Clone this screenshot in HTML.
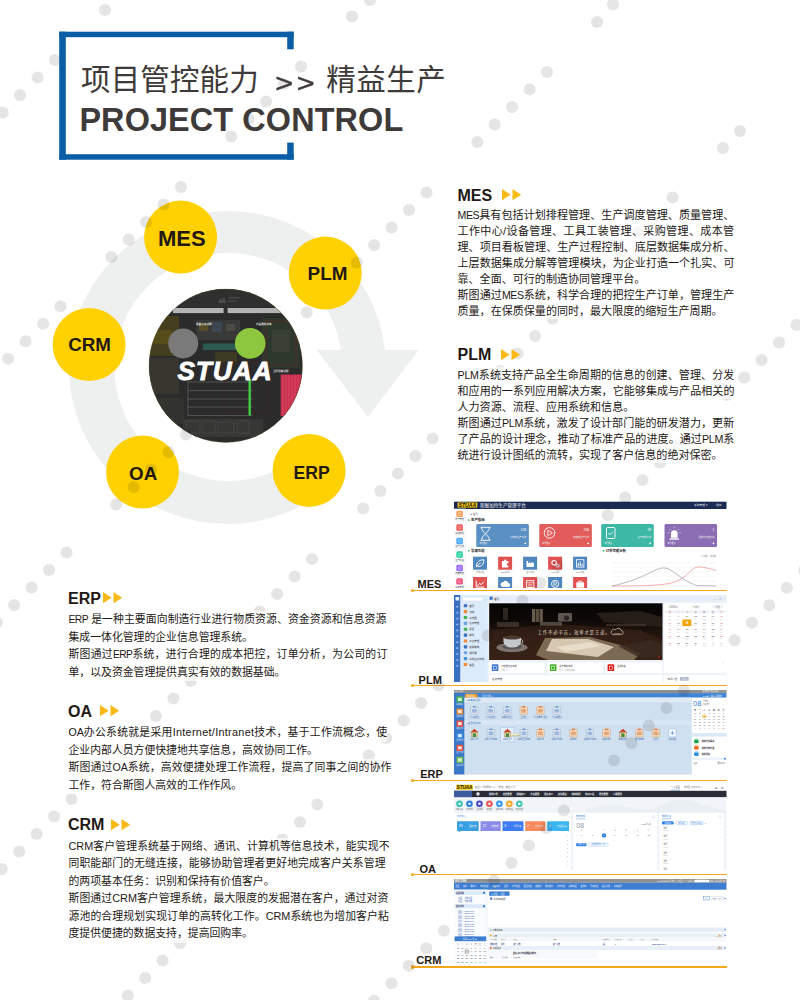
<!DOCTYPE html>
<html lang="zh-CN">
<head>
<meta charset="utf-8">
<title>项目管控能力 &gt;&gt; 精益生产 PROJECT CONTROL</title>
<style>
html,body{margin:0;padding:0;background:#fff;}
body{width:800px;height:1000px;overflow:hidden;}
#page{position:relative;width:800px;height:1000px;overflow:hidden;background:#fff;
  font-family:"Liberation Sans","Noto Sans CJK SC",sans-serif;color:#231815;}
#page *{box-sizing:border-box;}
.abs{position:absolute;}
.t-cn{position:absolute;white-space:nowrap;font-weight:400;font-size:29.5px;line-height:36px;color:#3e3a39;}
.t-en{position:absolute;white-space:nowrap;font-weight:700;font-size:32.4px;line-height:36px;color:#3e3a39;left:79.4px;top:102px;letter-spacing:0.12px;}
.hd{position:absolute;white-space:nowrap;font-weight:700;font-size:16px;line-height:20px;color:#231815;}
.tri{position:absolute;width:20px;height:11.5px;}
.ln{position:absolute;white-space:nowrap;font-size:11px;line-height:16px;height:16px;color:#231815;background:rgba(255,255,255,.68);}
.ln .l{font-size:.95em;letter-spacing:-.3px;}
.ln .m{font-size:1em;letter-spacing:0.3px;}
.lab{position:absolute;white-space:nowrap;font-weight:700;font-size:11px;line-height:14px;color:#231815;}
.oline{position:absolute;left:412.5px;width:314.5px;height:1.4px;background:#f5a81b;}
.odot{position:absolute;left:410.8px;width:3.6px;height:3.6px;border-radius:50%;background:#f5a81b;}
.shot{position:absolute;left:454px;width:272.5px;overflow:hidden;background:#fff;}
.shot svg{display:block;}
</style>
</head>
<body>
<div id="page">

<!-- circular diagram -->
<svg class="abs" style="left:0;top:170px" width="460" height="400" viewBox="0 170 460 400">
  <defs>
    <clipPath id="cc"><circle cx="225.75" cy="365.75" r="76.75"/></clipPath>
  </defs>
  <mask id="rm" maskUnits="userSpaceOnUse" x="0" y="170" width="460" height="400">
    <rect x="0" y="170" width="460" height="400" fill="#fff"/>
    <circle cx="228.3" cy="367" r="114" fill="#000"/>
    <polygon points="300,350.1 470,350.1 470,560 350.1,525.6 227,368" fill="#000"/>
  </mask>
  <ellipse cx="227.5" cy="367.5" rx="158.5" ry="156.5" fill="#eeefef" mask="url(#rm)"/>
  <polygon points="316.6,350.1 418.7,350.1 367.9,417.1" fill="#eeefef"/>
  <!-- center screen -->
  <g clip-path="url(#cc)">
    <rect x="140" y="280" width="180" height="180" fill="#2b2b2b"/>
    <rect x="149" y="289" width="154" height="18" fill="#2f2f2f"/>
    <path d="M218 303l2.4-5l1.8 2.6l1.6-4l2.6 6.4z" fill="#4c4c4c"/><rect x="228" y="297" width="12" height="1.6" fill="#444"/><rect x="228" y="300.4" width="9" height="1.6" fill="#444"/>
    <rect x="149" y="316" width="30" height="40" fill="#5a4e14" opacity=".55"/>
    <rect x="152" y="330" width="20" height="14" fill="#6a5c18" opacity=".5"/>
    <rect x="149" y="358" width="30" height="36" fill="#3b3a30" opacity=".85"/>
    <rect x="150" y="398" width="34" height="26" fill="#333330" opacity=".9"/>
    <rect x="196" y="320" width="44" height="20" fill="#39393a"/>
    <rect x="199" y="323" width="9" height="8" fill="#5c5424" opacity=".8"/><rect x="212" y="322" width="10" height="10" fill="#3c4a58" opacity=".9"/><rect x="226" y="324" width="9" height="7" fill="#4a4a44"/>
    <rect x="203" y="343.5" width="38" height="6.5" fill="#2f6a62" opacity=".75"/>
    <rect x="215" y="352" width="22" height="10" fill="#4a4520" opacity=".6"/>
    <rect x="262" y="318" width="38" height="50" fill="#2f382c"/>
    <rect x="266" y="321" width="30" height="44" fill="none" stroke="#7a2222" stroke-width=".5"/><rect x="224" y="362" width="44" height="50" fill="none" stroke="#5e1f1f" stroke-width=".4"/>
    <rect x="272" y="330" width="18" height="22" fill="#3a3f36"/>
    <rect x="173" y="308" width="50.6" height="5.1" fill="#b4b4b4"/>
    <rect x="227.6" y="308" width="60" height="5.1" fill="#b4b4b4"/>
    <g stroke="#8a8a8a" stroke-width=".5" opacity=".8">
      <line x1="188" y1="382" x2="253" y2="382"/><line x1="188" y1="390.5" x2="253" y2="390.5"/>
      <line x1="188" y1="399" x2="253" y2="399"/><line x1="188" y1="407" x2="253" y2="407"/>
      <line x1="188" y1="415.5" x2="253" y2="415.5"/><line x1="188" y1="380" x2="188" y2="416"/>
    </g>
    <rect x="183" y="419" width="80" height="18" fill="#383836" opacity=".9"/><g fill="none" stroke="#55554e" stroke-width=".4"><rect x="186" y="421" width="14" height="12"/><rect x="203" y="421" width="12" height="12"/><rect x="218" y="422" width="16" height="11"/><rect x="237" y="421" width="12" height="12"/></g>
    <rect x="280.6" y="374.5" width="30" height="41.5" fill="#c9304f"/>
    <g stroke="#e0506a" stroke-width=".7"><line x1="283" y1="375" x2="283" y2="416"/><line x1="286" y1="375" x2="286" y2="416"/><line x1="289" y1="375" x2="289" y2="416"/><line x1="292" y1="375" x2="292" y2="416"/><line x1="295" y1="375" x2="295" y2="416"/><line x1="298" y1="375" x2="298" y2="416"/></g>
    <rect x="248.5" y="379" width="2.4" height="36.5" fill="#3fd043"/>
    <circle cx="183.2" cy="343.4" r="15" fill="#7a7a7a"/>
    <circle cx="250.2" cy="343.4" r="15.3" fill="#8dc63f"/>
    <text x="196" y="325" font-size="2.6" fill="#e6e6e6" font-weight="700">机器人开动率</text>
    <text x="256" y="325" font-size="2.6" fill="#e6e6e6" font-weight="700">产品类别分布</text>
    <text x="273" y="372" font-size="2.6" fill="#e6e6e6" font-weight="700">当月异常记录</text>
    <text x="225" y="379.8" text-anchor="middle" font-family="Liberation Sans, sans-serif" font-weight="700" font-style="italic" font-size="26.2" letter-spacing="1" stroke="#ffffff" stroke-width=".8" fill="#ffffff">STUAA</text>
  </g>
  <circle cx="225.75" cy="365.75" r="76.6" fill="none" stroke="#5f5628" stroke-width=".5" opacity=".7"/>
  <!-- yellow nodes -->
  <g fill="#ffd100">
    <circle cx="180.6" cy="237.1" r="36.5"/>
    <circle cx="325.25" cy="273.1" r="36.5"/>
    <circle cx="89.1" cy="344.5" r="36.5"/>
    <circle cx="142.5" cy="472" r="36.5"/>
    <circle cx="309.1" cy="470.4" r="36.5"/>
  </g>
  <g font-family="Liberation Sans, sans-serif" font-weight="700" fill="#231815" text-anchor="middle">
    <text x="181.9" y="246.3" font-size="22">MES</text>
    <text x="327.5" y="279.6" font-size="18.9">PLM</text>
    <text x="89.6" y="351.3" font-size="18.8">CRM</text>
    <text x="143.2" y="479.5" font-size="18.8">OA</text>
    <text x="311.6" y="478.8" font-size="17.6">ERP</text>
  </g>
</svg>

<!-- screenshots -->
<svg class="abs" style="left:454px;top:501.3px" width="272.5" height="86.7" viewBox="454 501.3 272.5 86.7" font-family="Liberation Sans, Noto Sans CJK SC, sans-serif">
<rect x="454" y="501.3" width="272.5" height="86.7" fill="#ffffff"/>
<rect x="454" y="502" width="272.5" height="7.3" fill="#1b2a52"/>
<rect x="457.6" y="502.8" width="19.7" height="5.1" fill="#f6c500"/>
<text x="467.4" y="507.3" font-size="5.2" font-weight="700" font-style="italic" text-anchor="middle" fill="#1a1a1a">STUAA</text>
<text x="480" y="507.3" font-size="4.6" fill="#ffffff">斯图加特生产管理平台</text>
<text x="694" y="506.8" font-size="2.8" fill="#e8ecf5">系统管理 ▾</text><text x="716" y="506.8" font-size="2.8" fill="#e8ecf5">退出</text>
<rect x="454" y="509" width="11.7" height="79" fill="#fafbfc"/><rect x="465.6" y="509" width=".4" height="79" fill="#e3e6ea"/>
<rect x="456.3" y="511" width="6.6" height="6.4" rx="1.5" fill="#f5a05a"/><rect x="458.2" y="512.8" width="2.8" height="2.8" rx=".5" fill="none" stroke="#fff" stroke-width=".45" opacity=".8"/>
<text x="459.6" y="520.4" font-size="2.2" text-anchor="middle" fill="#555">排产管理</text>
<rect x="456.3" y="524.6" width="6.6" height="6.4" rx="1.5" fill="#ee5a5a"/><rect x="458.2" y="526.4" width="2.8" height="2.8" rx=".5" fill="none" stroke="#fff" stroke-width=".45" opacity=".8"/>
<text x="459.6" y="534.0" font-size="2.2" text-anchor="middle" fill="#555">基础数据</text>
<rect x="456.3" y="538.1" width="6.6" height="6.4" rx="1.5" fill="#4aa8ff"/><rect x="458.2" y="539.9" width="2.8" height="2.8" rx=".5" fill="none" stroke="#fff" stroke-width=".45" opacity=".8"/>
<text x="459.6" y="547.5" font-size="2.2" text-anchor="middle" fill="#555">生产过程</text>
<rect x="456.3" y="551.6" width="6.6" height="6.4" rx="1.5" fill="#2dd4a4"/><rect x="458.2" y="553.4" width="2.8" height="2.8" rx=".5" fill="none" stroke="#fff" stroke-width=".45" opacity=".8"/>
<text x="459.6" y="561.0" font-size="2.2" text-anchor="middle" fill="#555">生产看板</text>
<rect x="456.3" y="565.1" width="6.6" height="6.4" rx="1.5" fill="#9a6bff"/><rect x="458.2" y="566.9" width="2.8" height="2.8" rx=".5" fill="none" stroke="#fff" stroke-width=".45" opacity=".8"/>
<text x="459.6" y="574.5" font-size="2.2" text-anchor="middle" fill="#555">质量管理</text>
<rect x="456.3" y="578.5" width="6.6" height="6.4" rx="1.5" fill="#f0507a"/><rect x="458.2" y="580.3" width="2.8" height="2.8" rx=".5" fill="none" stroke="#fff" stroke-width=".45" opacity=".8"/>
<text x="459.6" y="587.9" font-size="2.2" text-anchor="middle" fill="#555">设备管理</text>
<text x="470" y="515.5" font-size="2.4" fill="#666">▲ 首页</text>
<circle cx="468.8" cy="520.4" r="0.9" fill="#2eb872"/><text x="471.0" y="521.6" font-size="3.4" font-weight="700" fill="#222">生产指标</text>
<circle cx="468.8" cy="551.0999999999999" r="0.9" fill="#2eb872"/><text x="471.0" y="552.3" font-size="3.4" font-weight="700" fill="#222">常用功能</text>
<circle cx="603.5" cy="551.0999999999999" r="0.9" fill="#2eb872"/><text x="605.7" y="552.3" font-size="3.4" font-weight="700" fill="#222">订单完成分析</text>
<rect x="476.25" y="524.4" width="52.6" height="22.8" rx="1.5" fill="#5b90c4"/>
<text x="526.25" y="531.6" font-size="3.4" text-anchor="end" fill="#fff">128</text>
<text x="526.25" y="538.4" font-size="2.3" text-anchor="end" fill="#f2f2f2">待完成生产订单</text>
<text x="479.25" y="544.3" font-size="2" fill="#f2f2f2">查看更多</text><circle cx="525.25" cy="543.6" r=".9" fill="#fff"/>
<rect x="539.25" y="524.4" width="52.6" height="22.8" rx="1.5" fill="#e25c5c"/>
<text x="589.25" y="531.6" font-size="3.4" text-anchor="end" fill="#fff">266</text>
<text x="589.25" y="538.4" font-size="2.3" text-anchor="end" fill="#f2f2f2">未完成生产订单</text>
<text x="542.25" y="544.3" font-size="2" fill="#f2f2f2">查看更多</text><circle cx="588.25" cy="543.6" r=".9" fill="#fff"/>
<rect x="601.2" y="524.4" width="52.6" height="22.8" rx="1.5" fill="#3eb8a6"/>
<text x="651.2" y="531.6" font-size="3.4" text-anchor="end" fill="#fff">39</text>
<text x="651.2" y="538.4" font-size="2.3" text-anchor="end" fill="#f2f2f2">生产完成订单</text>
<text x="604.2" y="544.3" font-size="2" fill="#f2f2f2">查看更多</text><circle cx="650.2" cy="543.6" r=".9" fill="#fff"/>
<rect x="664.5" y="524.4" width="52.6" height="22.8" rx="1.5" fill="#8a6db3"/>
<text x="714.5" y="531.6" font-size="3.4" text-anchor="end" fill="#fff">1</text>
<text x="714.5" y="538.4" font-size="2.3" text-anchor="end" fill="#f2f2f2">紧急待处理订单</text>
<text x="667.5" y="544.3" font-size="2" fill="#f2f2f2">查看更多</text><circle cx="713.5" cy="543.6" r=".9" fill="#fff"/>
<path d="M480.5 527.6h10M480.5 540.6h10M481.5 527.6c0 5 8 8 8 13M489.5 527.6c0 5 -8 8 -8 13" stroke="#fff" stroke-width=".9" fill="none"/>
<circle cx="549.5" cy="533.2" r="5.3" fill="none" stroke="#fff" stroke-width=".9"/><path d="M547.8 530.4l4.6 2.8l-4.6 2.8z" fill="none" stroke="#fff" stroke-width=".8"/>
<rect x="606.5" y="527.8" width="8.5" height="11" rx="1" fill="none" stroke="#fff" stroke-width=".9"/><path d="M608.3 533.5l1.6 1.6l3-3.2" stroke="#fff" stroke-width=".8" fill="none"/>
<path d="M671 538v-4.2a3.3 3.3 0 0 1 6.6 0v4.2z" fill="#fff"/><rect x="669.6" y="538.6" width="9.4" height="1.4" fill="#fff"/><path d="M674.3 527v1.6M669.6 529.3l1.2 1.2M679 529.3l-1.2 1.2M667.8 533h1.6M679.2 533h1.6" stroke="#fff" stroke-width=".6"/>
<rect x="473" y="557" width="14" height="13" fill="#4f86bd"/><g transform="translate(473,557)"><path d="M3.4 9.8c0-4.5 3-6.6 7.4-6.8c.2 4.6-2.2 7-6 6.9M3 10.6l4.6-4.6" fill="none" stroke="#fff" stroke-width="1"/></g>
<text x="480" y="573.6" font-size="1.9" text-anchor="middle" fill="#666">日常计划</text>
<rect x="498.1" y="557" width="14" height="13" fill="#e05252"/><g transform="translate(498.1,557)"><path d="M3.8 4.4h2.2a1.1 1.1 0 1 1 2 0h2.2v2.3a1.1 1.1 0 1 0 0 2v2h-6.4z" fill="#fff"/></g>
<text x="505.1" y="573.6" font-size="1.9" text-anchor="middle" fill="#666">BOM管理</text>
<rect x="523.1" y="557" width="14" height="13" fill="#4f86bd"/><g transform="translate(523.1,557)"><path d="M3.4 10.2v-5.6l1.6-.9v3l2.2-1.6v1.6l2.2-1.6v1.6l1.4-1v4.5z" fill="#fff"/></g>
<text x="530.1" y="573.6" font-size="1.9" text-anchor="middle" fill="#666">生产计划</text>
<rect x="548.1" y="557" width="14" height="13" fill="#e05252"/><g transform="translate(548.1,557)"><circle cx="6" cy="6" r="2.2" fill="none" stroke="#fff" stroke-width="1.2"/><circle cx="9.6" cy="9" r="1.5" fill="none" stroke="#fff" stroke-width="1"/></g>
<text x="555.1" y="573.6" font-size="1.9" text-anchor="middle" fill="#666">MRP运算</text>
<rect x="573.1" y="557" width="14" height="13" fill="#4f86bd"/><g transform="translate(573.1,557)"><rect x="3.4" y="3" width="7.4" height="7.4" fill="none" stroke="#fff" stroke-width=".8"/><path d="M5.2 9.4v-3M7.1 9.4v-4.6M9 9.4v-2.2" stroke="#fff" stroke-width="1"/></g>
<text x="580.1" y="573.6" font-size="1.9" text-anchor="middle" fill="#666">MPS计划</text>
<rect x="473" y="577.3" width="14" height="13" fill="#e05252"/><g transform="translate(473,577.6)"><path d="M3.2 9.8v-6.4M3.2 9.8h8M4.4 8.6l2.2-2.6l1.6 1.4l2.8-3.2" fill="none" stroke="#fff" stroke-width="1"/></g>
<rect x="498.1" y="577.3" width="14" height="13" fill="#4f86bd"/><g transform="translate(498.1,577.6)"><path d="M4.6 9.6h5.4a2 2 0 0 0 .2-4a2.8 2.8 0 0 0-5.3-.6a2.3 2.3 0 0 0-.3 4.6z" fill="#fff"/></g>
<rect x="523.1" y="577.3" width="14" height="13" fill="#e05252"/><g transform="translate(523.1,577.6)"><rect x="3.4" y="3.4" width="7.4" height="6.8" fill="none" stroke="#fff" stroke-width=".9"/><path d="M3.4 5.4h7.4M5 7h4M5 8.6h4" stroke="#fff" stroke-width=".6"/></g>
<rect x="548.1" y="577.3" width="14" height="13" fill="#4f86bd"/><g transform="translate(548.1,577.6)"><circle cx="7" cy="6.6" r="3.6" fill="none" stroke="#fff" stroke-width=".9"/><path d="M5.8 8.6v-4h1.6a1.1 1.1 0 0 1 0 2.2h-1.6M7.4 6.8l1.1 1.8" fill="none" stroke="#fff" stroke-width=".7"/></g>
<rect x="573.1" y="577.3" width="14" height="13" fill="#e05252"/><g transform="translate(573.1,577.6)"><rect x="3.2" y="5" width="7.8" height="5.4" rx=".6" fill="#fff"/><path d="M5.6 5v-1.2h3v1.2" fill="none" stroke="#fff" stroke-width=".8"/></g>
<line x1="612" y1="563.0" x2="716" y2="563.0" stroke="#ececec" stroke-width=".35"/>
<line x1="612" y1="567.6" x2="716" y2="567.6" stroke="#ececec" stroke-width=".35"/>
<line x1="612" y1="572.2" x2="716" y2="572.2" stroke="#ececec" stroke-width=".35"/>
<line x1="612" y1="576.8" x2="716" y2="576.8" stroke="#ececec" stroke-width=".35"/>
<line x1="612" y1="581.4" x2="716" y2="581.4" stroke="#ececec" stroke-width=".35"/>
<line x1="612" y1="586.0" x2="716" y2="586.0" stroke="#ececec" stroke-width=".35"/>
<path d="M612 586.3C628 583 640 578 648 574C655 570.5 659 568.2 664 568.2C672 568.2 680 580 697 586L716 586.4" fill="none" stroke="#8a8f96" stroke-width=".6"/>
<path d="M612 586.4C640 586.4 655 586 668 584C680 582 686 576 692 570C696 566.5 700 567 704 567.8C708 568.6 712 569.6 716 570.6" fill="none" stroke="#e9787e" stroke-width=".6"/>
<text x="716" y="557.3" font-size="1.9" text-anchor="end" fill="#888">— 计划数 — 完成数</text>
</svg>
<svg class="abs" style="left:454px;top:595px" width="272.5" height="87" viewBox="454 595 272.5 87" font-family="Liberation Sans, Noto Sans CJK SC, sans-serif">
<rect x="454" y="595" width="272.5" height="87" fill="#eef3f9"/>
<rect x="454" y="595" width="6.5" height="87" fill="#3b6fc2"/>
<rect x="455.5" y="597" width="3.6" height="3.6" rx=".5" fill="#eaf1fb"/>
<rect x="456.3" y="606.0" width="2" height="1.6" fill="#9db9e6"/>
<rect x="456.3" y="611.9" width="2" height="1.6" fill="#9db9e6"/>
<rect x="456.3" y="617.8" width="2" height="1.6" fill="#9db9e6"/>
<rect x="456.3" y="623.7" width="2" height="1.6" fill="#9db9e6"/>
<rect x="456.3" y="629.6" width="2" height="1.6" fill="#9db9e6"/>
<rect x="456.3" y="635.5" width="2" height="1.6" fill="#9db9e6"/>
<rect x="456.3" y="641.4" width="2" height="1.6" fill="#9db9e6"/>
<rect x="456.3" y="647.3" width="2" height="1.6" fill="#9db9e6"/>
<rect x="456.3" y="653.2" width="2" height="1.6" fill="#9db9e6"/>
<rect x="456.3" y="659.1" width="2" height="1.6" fill="#9db9e6"/>
<rect x="456.3" y="665.0" width="2" height="1.6" fill="#9db9e6"/>
<rect x="460.5" y="595" width="27.3" height="87" fill="#dcebfa"/>
<rect x="462.5" y="597.3" width="20.5" height="3.6" fill="#fff" stroke="#c5d6ea" stroke-width=".3"/><text x="483.8" y="600.5" font-size="2.6" fill="#667">⌕</text>
<rect x="463.8" y="604.2" width="3.4" height="3.1" rx=".4" fill="#3b6fc2"/><text x="469.3" y="606.8000000000001" font-size="2.5" fill="#333">首页</text>
<rect x="463.8" y="610.08" width="3.4" height="3.1" rx=".4" fill="#f08a3c"/><text x="469.3" y="612.6800000000001" font-size="2.5" fill="#333">流程</text>
<rect x="463.8" y="615.96" width="3.4" height="3.1" rx=".4" fill="#45b058"/><text x="469.3" y="618.5600000000001" font-size="2.5" fill="#333">工作圈</text>
<rect x="463.8" y="621.84" width="3.4" height="3.1" rx=".4" fill="#6aa5e0"/><text x="469.3" y="624.44" font-size="2.5" fill="#333">任务管理</text>
<rect x="463.8" y="627.72" width="3.4" height="3.1" rx=".4" fill="#45b058"/><text x="469.3" y="630.32" font-size="2.5" fill="#333">项目</text>
<rect x="463.8" y="633.6" width="3.4" height="3.1" rx=".4" fill="#3b6fc2"/><text x="469.3" y="636.2" font-size="2.5" fill="#333">邮件</text>
<rect x="463.8" y="639.48" width="3.4" height="3.1" rx=".4" fill="#f08a3c"/><text x="469.3" y="642.08" font-size="2.5" fill="#333">会议管理</text>
<rect x="463.8" y="645.36" width="3.4" height="3.1" rx=".4" fill="#3b6fc2"/><text x="469.3" y="647.96" font-size="2.5" fill="#333">权限实施</text>
<rect x="463.8" y="651.24" width="3.4" height="3.1" rx=".4" fill="#6aa5e0"/><text x="469.3" y="653.84" font-size="2.5" fill="#333">通讯录</text>
<rect x="463.8" y="657.12" width="3.4" height="3.1" rx=".4" fill="#4a90d9"/><text x="469.3" y="659.72" font-size="2.5" fill="#333">系统业务日志</text>
<rect x="463.8" y="663.0" width="3.4" height="3.1" rx=".4" fill="#f08a3c"/><text x="469.3" y="665.6" font-size="2.5" fill="#333">集团</text>
<rect x="487.8" y="595" width="238.7" height="6.6" fill="#e6eef8"/><rect x="489.6" y="596.6" width="3" height="3.2" fill="#3b6fc2"/><text x="494" y="599.7" font-size="2.6" fill="#333">首页</text>
<text x="722" y="599.7" font-size="2.6" text-anchor="end" fill="#8796a8">⌄ ▫ ✕</text>
<defs><linearGradient id="bn" x1="0" y1="0" x2="0" y2="1"><stop offset="0" stop-color="#050303"/><stop offset=".3" stop-color="#0e0907"/><stop offset=".55" stop-color="#22150f"/><stop offset="1" stop-color="#2c1b12"/></linearGradient><clipPath id="bnc"><rect x="489.2" y="603.3" width="173.3" height="56.7"/></clipPath></defs>
<rect x="489.2" y="603.3" width="173.3" height="56.7" fill="url(#bn)"/>
<g clip-path="url(#bnc)">
<polygon points="489,630 560,624 640,630 662,640 662,660 489,660" fill="#4a2e1e" opacity=".4"/>
<rect x="503" y="608" width="5" height="12" fill="#3a3029" opacity=".8"/><rect x="497" y="622" width="22" height="5" fill="#4a3f36" opacity=".7"/>
<rect x="532" y="609" width="3.2" height="13" fill="#6a5a4a"/><rect x="535.8" y="609" width="3.2" height="13" fill="#5a4c3e"/><rect x="539.6" y="609" width="3.2" height="13" fill="#6a5a4a"/>
<rect x="558" y="613" width="14" height="8.5" rx="1" fill="#5d554e"/><circle cx="566.5" cy="618" r="2.6" fill="#2a2522"/><rect x="540" y="622" width="22" height="3.6" fill="#6a6257" opacity=".7"/>
<polygon points="596,613 640,611 662,617 662,627 604,622" fill="#2a201a" opacity=".9"/><rect x="606" y="624" width="40" height="2.2" fill="#4a4038" opacity=".6"/>
<polygon points="536,655 545,638 590,637 624,646 640,654 634,660 548,660" fill="#8a775f" opacity=".85"/><polygon points="546,651 552,639 588,639 614,647 598,657" fill="#dccfb8" opacity=".92"/><polygon points="556,647 590,642 602,646 566,652" fill="#efe6d6" opacity=".7"/><polygon points="618,646 650,640 662,644 662,656 640,658" fill="#3a2a20" opacity=".8"/>
<ellipse cx="512" cy="647.5" rx="15.5" ry="4.6" fill="#7d7672"/><ellipse cx="512" cy="646.6" rx="10" ry="2.6" fill="#5a5350"/>
<path d="M503.5 637.5h17.5v4.5a8.75 5.6 0 0 1 -17.5 0z" fill="#c4c7cc"/><ellipse cx="512.2" cy="637.6" rx="8.75" ry="2" fill="#4a3a30"/><path d="M521 639.2a3.3 2.8 0 0 1 0 5" fill="none" stroke="#b5b8bd" stroke-width="1"/>
</g>
<text x="574" y="634.3" font-size="4.5" text-anchor="middle" fill="#ddd2c0" letter-spacing=".7">工作不必辛苦，效率才是王道。</text>
<path d="M612.5 634.6h8.5a2 2 0 0 0 .3-4a3 3 0 0 0-5.6-.8a2.4 2.4 0 0 0-3.2 4.8z" fill="none" stroke="#e6ddd0" stroke-width=".6"/><text x="617" y="633.8" font-size="2" fill="#e6ddd0" text-anchor="middle">eteams</text>
<rect x="658.3" y="656.3" width="1.4" height="1.2" fill="#e03030"/>
<rect x="489.2" y="662.5" width="55.3" height="10.6" fill="#fff"/><rect x="491.8" y="664.3" width="6.6" height="6.8" rx=".5" fill="#3f73d0"/><rect x="493.59999999999997" y="666.1" width="3" height="3.2" fill="none" stroke="#fff" stroke-width=".5"/>
<text x="501.2" y="667.3" font-size="2.2" fill="#333">待处理平台流程</text><text x="501.2" y="670.6" font-size="1.9" fill="#999">代批 0 个</text>
<rect x="547.3" y="662.5" width="55.7" height="10.6" fill="#fff"/><rect x="549.9" y="664.3" width="6.6" height="6.8" rx=".5" fill="#4ab32e"/><rect x="551.6999999999999" y="666.1" width="3" height="3.2" fill="none" stroke="#fff" stroke-width=".5"/>
<text x="559.3" y="667.3" font-size="2.2" fill="#333">关于我的流程</text><text x="559.3" y="670.6" font-size="1.9" fill="#999">暂 1 个待处理流程</text>
<rect x="605" y="662.5" width="57.5" height="10.6" fill="#fff"/><rect x="607.6" y="664.3" width="6.6" height="6.8" rx=".5" fill="#d9201f"/><rect x="609.4" y="666.1" width="3" height="3.2" fill="none" stroke="#fff" stroke-width=".5"/>
<text x="617" y="667.3" font-size="2.2" fill="#333">任务看板</text><text x="617" y="670.6" font-size="1.9" fill="#999"></text>
<rect x="489.2" y="675.2" width="173.3" height="7" fill="#fff"/><text x="492" y="680" font-size="2.6" fill="#444">任务管理</text>
<rect x="664.2" y="603.3" width="62.3" height="69.8" fill="#fff"/>
<text x="668" y="607.8" font-size="2.6" fill="#666">‹ 2020 ▾</text><text x="696" y="607.8" font-size="2.6" fill="#666" text-anchor="middle">‹   九月   ›</text><rect x="712.5" y="604.8" width="10.5" height="3.8" rx=".8" fill="#f0f2f5"/><text x="717.7" y="607.6" font-size="2.1" fill="#777" text-anchor="middle">今天</text>
<rect x="665" y="610" width="60.7" height="3.4" fill="#f1f3f7"/>
<text x="669.8" y="612.7" font-size="2.2" text-anchor="middle" fill="#e05a5a">日</text>
<text x="678.4" y="612.7" font-size="2.2" text-anchor="middle" fill="#777">一</text>
<text x="687.0" y="612.7" font-size="2.2" text-anchor="middle" fill="#777">二</text>
<text x="695.5999999999999" y="612.7" font-size="2.2" text-anchor="middle" fill="#777">三</text>
<text x="704.1999999999999" y="612.7" font-size="2.2" text-anchor="middle" fill="#777">四</text>
<text x="712.8" y="612.7" font-size="2.2" text-anchor="middle" fill="#777">五</text>
<text x="721.4" y="612.7" font-size="2.2" text-anchor="middle" fill="#e05a5a">六</text>
<text x="669.8" y="617.2" font-size="2.5" text-anchor="middle" fill="#bbb">30</text><text x="669.8" y="619.5" font-size="1.4" text-anchor="middle" fill="#aaa">初日</text>
<text x="678.4" y="617.2" font-size="2.5" text-anchor="middle" fill="#bbb">31</text><text x="678.4" y="619.5" font-size="1.4" text-anchor="middle" fill="#aaa">初一</text>
<text x="687.0" y="617.2" font-size="2.5" text-anchor="middle" fill="#444">01</text><text x="687.0" y="619.5" font-size="1.4" text-anchor="middle" fill="#aaa">初二</text>
<text x="695.5999999999999" y="617.2" font-size="2.5" text-anchor="middle" fill="#444">02</text><text x="695.5999999999999" y="619.5" font-size="1.4" text-anchor="middle" fill="#aaa">初三</text>
<text x="704.1999999999999" y="617.2" font-size="2.5" text-anchor="middle" fill="#444">03</text><text x="704.1999999999999" y="619.5" font-size="1.4" text-anchor="middle" fill="#aaa">初四</text>
<text x="712.8" y="617.2" font-size="2.5" text-anchor="middle" fill="#444">04</text><text x="712.8" y="619.5" font-size="1.4" text-anchor="middle" fill="#aaa">初五</text>
<text x="721.4" y="617.2" font-size="2.5" text-anchor="middle" fill="#e05a5a">05</text><text x="721.4" y="619.5" font-size="1.4" text-anchor="middle" fill="#aaa">初六</text>
<text x="669.8" y="623.8000000000001" font-size="2.5" text-anchor="middle" fill="#e05a5a">06</text><text x="669.8" y="626.1" font-size="1.4" text-anchor="middle" fill="#aaa">初日</text>
<text x="678.4" y="623.8000000000001" font-size="2.5" text-anchor="middle" fill="#444">07</text><text x="678.4" y="626.1" font-size="1.4" text-anchor="middle" fill="#aaa">初一</text>
<rect x="682.4" y="619.6" width="8.9" height="6.5" fill="#f5a300"/><text x="687.0" y="624.1" font-size="2.6" font-weight="700" text-anchor="middle" fill="#fff">08</text>
<text x="695.5999999999999" y="623.8000000000001" font-size="2.5" text-anchor="middle" fill="#444">09</text><text x="695.5999999999999" y="626.1" font-size="1.4" text-anchor="middle" fill="#aaa">初三</text>
<text x="704.1999999999999" y="623.8000000000001" font-size="2.5" text-anchor="middle" fill="#444">10</text><text x="704.1999999999999" y="626.1" font-size="1.4" text-anchor="middle" fill="#aaa">初四</text>
<text x="712.8" y="623.8000000000001" font-size="2.5" text-anchor="middle" fill="#444">11</text><text x="712.8" y="626.1" font-size="1.4" text-anchor="middle" fill="#aaa">初五</text>
<text x="721.4" y="623.8000000000001" font-size="2.5" text-anchor="middle" fill="#e05a5a">12</text><text x="721.4" y="626.1" font-size="1.4" text-anchor="middle" fill="#aaa">初六</text>
<text x="669.8" y="630.4000000000001" font-size="2.5" text-anchor="middle" fill="#e05a5a">13</text><text x="669.8" y="632.7" font-size="1.4" text-anchor="middle" fill="#aaa">初日</text>
<text x="678.4" y="630.4000000000001" font-size="2.5" text-anchor="middle" fill="#444">14</text><text x="678.4" y="632.7" font-size="1.4" text-anchor="middle" fill="#aaa">初一</text>
<text x="687.0" y="630.4000000000001" font-size="2.5" text-anchor="middle" fill="#444">15</text><text x="687.0" y="632.7" font-size="1.4" text-anchor="middle" fill="#aaa">初二</text>
<text x="695.5999999999999" y="630.4000000000001" font-size="2.5" text-anchor="middle" fill="#444">16</text><text x="695.5999999999999" y="632.7" font-size="1.4" text-anchor="middle" fill="#aaa">初三</text>
<text x="704.1999999999999" y="630.4000000000001" font-size="2.5" text-anchor="middle" fill="#444">17</text><text x="704.1999999999999" y="632.7" font-size="1.4" text-anchor="middle" fill="#aaa">初四</text>
<text x="712.8" y="630.4000000000001" font-size="2.5" text-anchor="middle" fill="#444">18</text><text x="712.8" y="632.7" font-size="1.4" text-anchor="middle" fill="#aaa">初五</text>
<text x="721.4" y="630.4000000000001" font-size="2.5" text-anchor="middle" fill="#e05a5a">19</text><text x="721.4" y="632.7" font-size="1.4" text-anchor="middle" fill="#aaa">初六</text>
<text x="669.8" y="637.0" font-size="2.5" text-anchor="middle" fill="#e05a5a">20</text><text x="669.8" y="639.3" font-size="1.4" text-anchor="middle" fill="#aaa">初日</text>
<text x="678.4" y="637.0" font-size="2.5" text-anchor="middle" fill="#444">21</text><text x="678.4" y="639.3" font-size="1.4" text-anchor="middle" fill="#aaa">初一</text>
<text x="687.0" y="637.0" font-size="2.5" text-anchor="middle" fill="#444">22</text><text x="687.0" y="639.3" font-size="1.4" text-anchor="middle" fill="#aaa">初二</text>
<text x="695.5999999999999" y="637.0" font-size="2.5" text-anchor="middle" fill="#444">23</text><text x="695.5999999999999" y="639.3" font-size="1.4" text-anchor="middle" fill="#aaa">初三</text>
<text x="704.1999999999999" y="637.0" font-size="2.5" text-anchor="middle" fill="#444">24</text><text x="704.1999999999999" y="639.3" font-size="1.4" text-anchor="middle" fill="#aaa">初四</text>
<text x="712.8" y="637.0" font-size="2.5" text-anchor="middle" fill="#444">25</text><text x="712.8" y="639.3" font-size="1.4" text-anchor="middle" fill="#aaa">初五</text>
<text x="721.4" y="637.0" font-size="2.5" text-anchor="middle" fill="#e05a5a">26</text><text x="721.4" y="639.3" font-size="1.4" text-anchor="middle" fill="#aaa">初六</text>
<text x="669.8" y="643.6" font-size="2.5" text-anchor="middle" fill="#e05a5a">27</text><text x="669.8" y="645.9" font-size="1.4" text-anchor="middle" fill="#aaa">初日</text>
<text x="678.4" y="643.6" font-size="2.5" text-anchor="middle" fill="#444">28</text><text x="678.4" y="645.9" font-size="1.4" text-anchor="middle" fill="#aaa">初一</text>
<text x="687.0" y="643.6" font-size="2.5" text-anchor="middle" fill="#444">29</text><text x="687.0" y="645.9" font-size="1.4" text-anchor="middle" fill="#aaa">初二</text>
<text x="695.5999999999999" y="643.6" font-size="2.5" text-anchor="middle" fill="#444">30</text><text x="695.5999999999999" y="645.9" font-size="1.4" text-anchor="middle" fill="#aaa">初三</text>
<text x="704.1999999999999" y="643.6" font-size="2.5" text-anchor="middle" fill="#bbb">01</text><text x="704.1999999999999" y="645.9" font-size="1.4" text-anchor="middle" fill="#aaa">初四</text>
<text x="712.8" y="643.6" font-size="2.5" text-anchor="middle" fill="#bbb">02</text><text x="712.8" y="645.9" font-size="1.4" text-anchor="middle" fill="#aaa">初五</text>
<text x="721.4" y="643.6" font-size="2.5" text-anchor="middle" fill="#bbb">03</text><text x="721.4" y="645.9" font-size="1.4" text-anchor="middle" fill="#aaa">初六</text>
<text x="667.5" y="662" font-size="2" fill="#999">·</text><text x="667.5" y="666" font-size="2" fill="#999">·</text><text x="722" y="664" font-size="2" fill="#999">⋮</text>
<rect x="664.2" y="675.2" width="62.3" height="7" fill="#fff"/><text x="667.5" y="680" font-size="2.4" fill="#444">未阅公告</text><rect x="680" y="677" width="8.6" height="3.8" rx=".5" fill="#aab4c4"/><text x="684.3" y="679.9" font-size="2" fill="#fff" text-anchor="middle">已阅读</text>
</svg>
<svg class="abs" style="left:454px;top:690px" width="272.5" height="85.4" viewBox="454 690 272.5 85.4" font-family="Liberation Sans, Noto Sans CJK SC, sans-serif">
<rect x="454" y="690" width="272.5" height="85.4" fill="#fdfaf2"/>
<rect x="454" y="690" width="272.5" height="3.2" fill="#8d8f92"/><text x="455" y="692.5" font-size="2" fill="#f0f0f0">ERP 管家</text><text x="725" y="692.5" font-size="2" fill="#f5f5f5" text-anchor="end">服务热线  在线客服  — ▫ ✕</text>
<rect x="454" y="693.1" width="272.5" height="4.6" fill="#3f84d6"/>
<rect x="454" y="693.1" width="10.6" height="81.4" fill="#3a78c8"/>
<path d="M465 697.7v-2.8a1 1 0 0 1 1-1h10.6l1.6 3.8z" fill="#f39a1e"/><text x="471" y="696.8" font-size="2.1" fill="#fff" text-anchor="middle">导航图标</text><text x="487.5" y="696.9" font-size="2.1" fill="#dfeaf8" text-anchor="middle">用户功能表</text>
<text x="722" y="696.8" font-size="2.2" fill="#eaf2fc" text-anchor="end">● ▾ ■ ✎ 输入关键字</text>
<rect x="456.5" y="696.3" width="6.6" height="6.2" rx=".6" fill="#3fb34f"/><rect x="457.9" y="697.8" width="3.8" height="3.2" fill="#fff" opacity=".8"/><text x="459.8" y="705.0999999999999" font-size="1.8" fill="#e8f0fb" text-anchor="middle">基本资料</text>
<rect x="456.5" y="708.4" width="6.6" height="6.2" rx=".6" fill="#f08a2c"/><rect x="457.9" y="709.9" width="3.8" height="3.2" fill="#fff" opacity=".8"/><text x="459.8" y="717.1999999999999" font-size="1.8" fill="#e8f0fb" text-anchor="middle">采购管理</text>
<rect x="456.5" y="720.5" width="6.6" height="6.2" rx=".6" fill="#e8503a"/><rect x="457.9" y="722.0" width="3.8" height="3.2" fill="#fff" opacity=".8"/><text x="459.8" y="729.3" font-size="1.8" fill="#e8f0fb" text-anchor="middle">销售管理</text>
<rect x="456.5" y="732.5999999999999" width="6.6" height="6.2" rx=".6" fill="#3a8ee0"/><rect x="457.9" y="734.0999999999999" width="3.8" height="3.2" fill="#fff" opacity=".8"/><text x="459.8" y="741.3999999999999" font-size="1.8" fill="#e8f0fb" text-anchor="middle">库存管理</text>
<rect x="456.5" y="744.6999999999999" width="6.6" height="6.2" rx=".6" fill="#e8503a"/><rect x="457.9" y="746.1999999999999" width="3.8" height="3.2" fill="#fff" opacity=".8"/><text x="459.8" y="753.4999999999999" font-size="1.8" fill="#e8f0fb" text-anchor="middle">生产管理</text>
<rect x="456.5" y="756.8" width="6.6" height="6.2" rx=".6" fill="#6cbf4a"/><rect x="457.9" y="758.3" width="3.8" height="3.2" fill="#fff" opacity=".8"/><text x="459.8" y="765.5999999999999" font-size="1.8" fill="#e8f0fb" text-anchor="middle">财务管理</text>
<rect x="464.6" y="697.7" width="226.9" height="76.8" fill="#cfe0f1"/>
<rect x="464.6" y="697.7" width="226.9" height="5" fill="#dfeaf6"/><rect x="464.6" y="720.4" width="226.9" height="5" fill="#dae7f5"/>
<text x="466.5" y="701.4" font-size="2.1" fill="#2c6cb8">▾ 基本资料图示</text><line x1="464.6" y1="702.7" x2="691.5" y2="702.7" stroke="#bcd2ea" stroke-width=".3"/>
<text x="466.5" y="723.9" font-size="2.1" fill="#2c6cb8">▾ 进货管理流程</text><line x1="464.6" y1="725.4" x2="691.5" y2="725.4" stroke="#bcd2ea" stroke-width=".3"/>
<rect x="470.59999999999997" y="706.8" width="7.6" height="7.6" rx=".7" fill="#dfe6ee" stroke="#8aa2c0" stroke-width=".4"/><rect x="472.99999999999994" y="706" width="2.8" height="1.7" rx=".4" fill="#6f9ad0"/><rect x="471.99999999999994" y="709" width="4.8" height="3.6" fill="#6f9ad0" opacity=".6"/>
<text x="474.4" y="717.6" font-size="1.8" fill="#2c5c9a" text-anchor="middle">会计科目档案</text>
<rect x="486.9" y="706.8" width="7.6" height="7.6" rx=".7" fill="#dfe6ee" stroke="#8aa2c0" stroke-width=".4"/><rect x="489.29999999999995" y="706" width="2.8" height="1.7" rx=".4" fill="#6f9ad0"/><rect x="488.29999999999995" y="709" width="4.8" height="3.6" fill="#6f9ad0" opacity=".6"/>
<text x="490.7" y="717.6" font-size="1.8" fill="#2c5c9a" text-anchor="middle">会计凭证档案</text>
<rect x="503.4" y="706.8" width="7.6" height="7.6" rx=".7" fill="#dfe6ee" stroke="#8aa2c0" stroke-width=".4"/><rect x="505.79999999999995" y="706" width="2.8" height="1.7" rx=".4" fill="#6f9ad0"/><rect x="504.79999999999995" y="709" width="4.8" height="3.6" fill="#6f9ad0" opacity=".6"/>
<text x="507.2" y="717.6" font-size="1.8" fill="#2c5c9a" text-anchor="middle">摘要词库档案</text>
<rect x="519.9000000000001" y="706.8" width="7.6" height="7.6" rx=".7" fill="#f1dcc4" stroke="#c98a5a" stroke-width=".4"/><rect x="522.3000000000001" y="706" width="2.8" height="1.7" rx=".4" fill="#dd8246"/><rect x="521.3000000000001" y="709" width="4.8" height="3.6" fill="#dd8246" opacity=".6"/>
<text x="523.7" y="717.6" font-size="1.8" fill="#2c5c9a" text-anchor="middle">货品档案</text>
<rect x="536.6" y="706.8" width="7.6" height="7.6" rx=".7" fill="#f1dcc4" stroke="#c98a5a" stroke-width=".4"/><rect x="539.0" y="706" width="2.8" height="1.7" rx=".4" fill="#dd8246"/><rect x="538.0" y="709" width="4.8" height="3.6" fill="#dd8246" opacity=".6"/>
<text x="540.4" y="717.6" font-size="1.8" fill="#2c5c9a" text-anchor="middle">会计批量导入档案</text>
<rect x="553.1" y="706.8" width="7.6" height="7.6" rx=".7" fill="#dfe6ee" stroke="#8aa2c0" stroke-width=".4"/><rect x="555.5" y="706" width="2.8" height="1.7" rx=".4" fill="#6f9ad0"/><rect x="554.5" y="709" width="4.8" height="3.6" fill="#6f9ad0" opacity=".6"/>
<text x="556.9" y="717.6" font-size="1.8" fill="#2c5c9a" text-anchor="middle">会计权限档案</text>
<path d="M470.2 732.4l4.2-3.6l4.2 3.6z" fill="#c9482c"/><rect x="471.09999999999997" y="732.4" width="6.6" height="4.6" fill="#e9d3a8" stroke="#8a6a3a" stroke-width=".3"/><rect x="472.79999999999995" y="733.4" width="3.2" height="3.6" fill="#4a8a3c"/>
<text x="474.4" y="740.3" font-size="1.8" fill="#2c5c9a" text-anchor="middle">采购入库单</text>
<rect x="487.09999999999997" y="729.4" width="7.6" height="7.6" rx=".7" fill="#dfe6ee" stroke="#8aa2c0" stroke-width=".4"/><rect x="489.49999999999994" y="728.6" width="2.8" height="1.7" rx=".4" fill="#6f9ad0"/><rect x="488.49999999999994" y="731.6" width="4.8" height="3.6" fill="#6f9ad0" opacity=".6"/>
<text x="490.9" y="740.3" font-size="1.8" fill="#2c5c9a" text-anchor="middle">采购入库单明细</text>
<rect x="500.79999999999995" y="727.4" width="13.2" height="14.6" fill="#e3effb" stroke="#8ab2e0" stroke-width=".35"/>
<path d="M503.2 732.4l4.2-3.6l4.2 3.6z" fill="#c9482c"/><rect x="504.09999999999997" y="732.4" width="6.6" height="4.6" fill="#e9d3a8" stroke="#8a6a3a" stroke-width=".3"/><rect x="505.79999999999995" y="733.4" width="3.2" height="3.6" fill="#4a8a3c"/>
<text x="507.4" y="740.3" font-size="1.8" fill="#2c5c9a" text-anchor="middle">采购退货单</text>
<rect x="520.1" y="729.4" width="7.6" height="7.6" rx=".7" fill="#dfe6ee" stroke="#8aa2c0" stroke-width=".4"/><rect x="522.5" y="728.6" width="2.8" height="1.7" rx=".4" fill="#6f9ad0"/><rect x="521.5" y="731.6" width="4.8" height="3.6" fill="#6f9ad0" opacity=".6"/>
<text x="523.9" y="740.3" font-size="1.8" fill="#2c5c9a" text-anchor="middle">采购退货单明细</text>
<rect x="536.6" y="729.4" width="7.6" height="7.6" rx=".7" fill="#f1dcc4" stroke="#c98a5a" stroke-width=".4"/><rect x="539.0" y="728.6" width="2.8" height="1.7" rx=".4" fill="#dd8246"/><rect x="538.0" y="731.6" width="4.8" height="3.6" fill="#dd8246" opacity=".6"/>
<text x="540.4" y="740.3" font-size="1.8" fill="#2c5c9a" text-anchor="middle">采购订单</text>
<rect x="553.1" y="729.4" width="7.6" height="7.6" rx=".7" fill="#dfe6ee" stroke="#8aa2c0" stroke-width=".4"/><rect x="555.5" y="728.6" width="2.8" height="1.7" rx=".4" fill="#6f9ad0"/><rect x="554.5" y="731.6" width="4.8" height="3.6" fill="#6f9ad0" opacity=".6"/>
<text x="556.9" y="740.3" font-size="1.8" fill="#2c5c9a" text-anchor="middle">采购订单明细</text>
<rect x="569.6" y="729.4" width="7.6" height="7.6" rx=".7" fill="#f1dcc4" stroke="#c98a5a" stroke-width=".4"/><rect x="572.0" y="728.6" width="2.8" height="1.7" rx=".4" fill="#dd8246"/><rect x="571.0" y="731.6" width="4.8" height="3.6" fill="#dd8246" opacity=".6"/>
<text x="573.4" y="740.3" font-size="1.8" fill="#2c5c9a" text-anchor="middle">采购询价</text>
<rect x="586.1" y="729.4" width="7.6" height="7.6" rx=".7" fill="#dfe6ee" stroke="#8aa2c0" stroke-width=".4"/><rect x="588.5" y="728.6" width="2.8" height="1.7" rx=".4" fill="#6f9ad0"/><rect x="587.5" y="731.6" width="4.8" height="3.6" fill="#6f9ad0" opacity=".6"/>
<text x="589.9" y="740.3" font-size="1.8" fill="#2c5c9a" text-anchor="middle">采购询价单明细</text>
<rect x="602.6" y="729.4" width="7.6" height="7.6" rx=".7" fill="#f1dcc4" stroke="#c98a5a" stroke-width=".4"/><rect x="605.0" y="728.6" width="2.8" height="1.7" rx=".4" fill="#dd8246"/><rect x="604.0" y="731.6" width="4.8" height="3.6" fill="#dd8246" opacity=".6"/>
<text x="606.4" y="740.3" font-size="1.8" fill="#2c5c9a" text-anchor="middle">采购付款单</text>
<path d="M618.7 732.4l4.2-3.6l4.2 3.6z" fill="#c9482c"/><rect x="619.6" y="732.4" width="6.6" height="4.6" fill="#e9d3a8" stroke="#8a6a3a" stroke-width=".3"/><rect x="621.3000000000001" y="733.4" width="3.2" height="3.6" fill="#4a8a3c"/>
<text x="622.9" y="740.3" font-size="1.8" fill="#2c5c9a" text-anchor="middle">批量付款单</text>
<rect x="635.6" y="729.4" width="7.6" height="7.6" rx=".7" fill="#f1dcc4" stroke="#c98a5a" stroke-width=".4"/><rect x="638.0" y="728.6" width="2.8" height="1.7" rx=".4" fill="#dd8246"/><rect x="637.0" y="731.6" width="4.8" height="3.6" fill="#dd8246" opacity=".6"/>
<text x="639.4" y="740.3" font-size="1.8" fill="#2c5c9a" text-anchor="middle">应付款查询</text>
<rect x="652.1" y="729.4" width="7.6" height="7.6" rx=".7" fill="#f1dcc4" stroke="#c98a5a" stroke-width=".4"/><rect x="654.5" y="728.6" width="2.8" height="1.7" rx=".4" fill="#dd8246"/><rect x="653.5" y="731.6" width="4.8" height="3.6" fill="#dd8246" opacity=".6"/>
<text x="655.9" y="740.3" font-size="1.8" fill="#2c5c9a" text-anchor="middle">退货单</text>
<rect x="668.6" y="729" width="7.6" height="7.8" rx=".6" fill="#f4f9ff" stroke="#7fa6d6" stroke-width=".4"/><path d="M672.4 731v3.8M670.5 732.9h3.8" stroke="#3a7ed0" stroke-width=".6"/>
<text x="672.4" y="740.3" font-size="1.8" fill="#2c5c9a" text-anchor="middle">快速建档</text>
<rect x="511" y="733.6" width="8.6" height="2.8" fill="#ffffd6" stroke="#999" stroke-width=".2"/><text x="515.3" y="735.8" font-size="1.7" text-anchor="middle" fill="#333">采购入库单</text>
<rect x="691.5" y="697.7" width="35" height="76.8" fill="#ffffff"/><line x1="691.5" y1="697.7" x2="691.5" y2="774.5" stroke="#bcd2ea" stroke-width=".4"/>
<text x="693" y="706.4" font-size="7.6" fill="#2f7fd0">08</text><text x="703" y="702.4" font-size="1.9" fill="#555">星期二</text><text x="703" y="705.4" font-size="1.9" fill="#555">九月廿一</text><text x="724.5" y="705.4" font-size="1.8" fill="#2f7fd0" text-anchor="end">‹ ›</text>
<text x="695.0" y="711" font-size="1.9" text-anchor="middle" fill="#444" font-weight="700">日</text>
<text x="699.75" y="711" font-size="1.9" text-anchor="middle" fill="#444" font-weight="700">一</text>
<text x="704.5" y="711" font-size="1.9" text-anchor="middle" fill="#444" font-weight="700">二</text>
<text x="709.25" y="711" font-size="1.9" text-anchor="middle" fill="#444" font-weight="700">三</text>
<text x="714.0" y="711" font-size="1.9" text-anchor="middle" fill="#444" font-weight="700">四</text>
<text x="718.75" y="711" font-size="1.9" text-anchor="middle" fill="#444" font-weight="700">五</text>
<text x="723.5" y="711" font-size="1.9" text-anchor="middle" fill="#444" font-weight="700">六</text>
<text x="695.0" y="714.3" font-size="1.8" text-anchor="middle" fill="#555">30</text>
<text x="699.75" y="714.3" font-size="1.8" text-anchor="middle" fill="#555">31</text>
<text x="704.5" y="714.3" font-size="1.8" text-anchor="middle" fill="#555">1</text>
<text x="709.25" y="714.3" font-size="1.8" text-anchor="middle" fill="#555">2</text>
<text x="714.0" y="714.3" font-size="1.8" text-anchor="middle" fill="#555">3</text>
<text x="718.75" y="714.3" font-size="1.8" text-anchor="middle" fill="#555">4</text>
<text x="723.5" y="714.3" font-size="1.8" text-anchor="middle" fill="#555">5</text>
<text x="695.0" y="717.25" font-size="1.8" text-anchor="middle" fill="#555">6</text>
<text x="699.75" y="717.25" font-size="1.8" text-anchor="middle" fill="#555">7</text>
<rect x="702.8" y="715.15" width="3.4" height="2.7" fill="#fbd98a" stroke="#e8a020" stroke-width=".3"/>
<text x="704.5" y="717.25" font-size="1.8" text-anchor="middle" fill="#555">8</text>
<text x="709.25" y="717.25" font-size="1.8" text-anchor="middle" fill="#555">9</text>
<text x="714.0" y="717.25" font-size="1.8" text-anchor="middle" fill="#555">10</text>
<text x="718.75" y="717.25" font-size="1.8" text-anchor="middle" fill="#555">11</text>
<text x="723.5" y="717.25" font-size="1.8" text-anchor="middle" fill="#555">12</text>
<text x="695.0" y="720.1999999999999" font-size="1.8" text-anchor="middle" fill="#555">13</text>
<text x="699.75" y="720.1999999999999" font-size="1.8" text-anchor="middle" fill="#555">14</text>
<text x="704.5" y="720.1999999999999" font-size="1.8" text-anchor="middle" fill="#555">15</text>
<text x="709.25" y="720.1999999999999" font-size="1.8" text-anchor="middle" fill="#555">16</text>
<text x="714.0" y="720.1999999999999" font-size="1.8" text-anchor="middle" fill="#555">17</text>
<text x="718.75" y="720.1999999999999" font-size="1.8" text-anchor="middle" fill="#555">18</text>
<text x="723.5" y="720.1999999999999" font-size="1.8" text-anchor="middle" fill="#555">19</text>
<text x="695.0" y="723.15" font-size="1.8" text-anchor="middle" fill="#555">20</text>
<text x="699.75" y="723.15" font-size="1.8" text-anchor="middle" fill="#555">21</text>
<text x="704.5" y="723.15" font-size="1.8" text-anchor="middle" fill="#555">22</text>
<text x="709.25" y="723.15" font-size="1.8" text-anchor="middle" fill="#555">23</text>
<text x="714.0" y="723.15" font-size="1.8" text-anchor="middle" fill="#555">24</text>
<text x="718.75" y="723.15" font-size="1.8" text-anchor="middle" fill="#555">25</text>
<text x="723.5" y="723.15" font-size="1.8" text-anchor="middle" fill="#555">26</text>
<text x="695.0" y="726.0999999999999" font-size="1.8" text-anchor="middle" fill="#555">27</text>
<text x="699.75" y="726.0999999999999" font-size="1.8" text-anchor="middle" fill="#555">28</text>
<text x="704.5" y="726.0999999999999" font-size="1.8" text-anchor="middle" fill="#555">29</text>
<text x="709.25" y="726.0999999999999" font-size="1.8" text-anchor="middle" fill="#555">30</text>
<text x="714.0" y="726.0999999999999" font-size="1.8" text-anchor="middle" fill="#555">1</text>
<text x="718.75" y="726.0999999999999" font-size="1.8" text-anchor="middle" fill="#555">2</text>
<text x="723.5" y="726.0999999999999" font-size="1.8" text-anchor="middle" fill="#555">3</text>
<text x="695.0" y="729.05" font-size="1.8" text-anchor="middle" fill="#555">4</text>
<text x="699.75" y="729.05" font-size="1.8" text-anchor="middle" fill="#555">5</text>
<text x="704.5" y="729.05" font-size="1.8" text-anchor="middle" fill="#555">6</text>
<text x="709.25" y="729.05" font-size="1.8" text-anchor="middle" fill="#555">7</text>
<text x="714.0" y="729.05" font-size="1.8" text-anchor="middle" fill="#555">8</text>
<text x="718.75" y="729.05" font-size="1.8" text-anchor="middle" fill="#555">9</text>
<text x="723.5" y="729.05" font-size="1.8" text-anchor="middle" fill="#555">10</text>
<rect x="691.7" y="733" width="34.8" height="3.6" fill="#dbe8f6"/>
<path d="M694.2 739.8000000000001h4.4v3.4h-4.4z" fill="#17a34a"/><path d="M695.2 739.8000000000001a1.2 1.2 0 0 1 2.4 0" fill="none" stroke="#17a34a" stroke-width=".5"/><text x="701.8" y="742.5" font-size="2.1" font-weight="700" fill="#333">我的待办事项</text>
<path d="M694.2 746.1500000000001h4.4v3.4h-4.4z" fill="#f2671f"/><path d="M695.2 746.1500000000001a1.2 1.2 0 0 1 2.4 0" fill="none" stroke="#f2671f" stroke-width=".5"/><text x="701.8" y="748.85" font-size="2.1" font-weight="700" fill="#333">我的待审单据</text>
<path d="M694.2 752.5000000000001h4.4v3.4h-4.4z" fill="#1f8be0"/><path d="M695.2 752.5000000000001a1.2 1.2 0 0 1 2.4 0" fill="none" stroke="#1f8be0" stroke-width=".5"/><text x="701.8" y="755.2" font-size="2.1" font-weight="700" fill="#333">我的消息</text>
<rect x="691.7" y="757.6" width="34.8" height="2.3" fill="#eaf2fb"/><rect x="724" y="757.9" width="1.8" height="1.6" fill="#3a7ed0"/>
<text x="693.5" y="764.4" font-size="1.9" fill="#666">名称</text><text x="725" y="764.4" font-size="1.9" fill="#666" text-anchor="end">更新时间</text>
</svg>
<svg class="abs" style="left:454px;top:783.5px" width="272.5" height="86.3" viewBox="454 783.5 272.5 86.3" font-family="Liberation Sans, Noto Sans CJK SC, sans-serif">
<rect x="454" y="783.5" width="272.5" height="86.3" fill="#f1f4f8"/>
<rect x="454" y="783.5" width="272.5" height="6.8" fill="#ffffff"/>
<rect x="456.3" y="784.2" width="16.5" height="5" fill="#f6c500"/><text x="464.5" y="788.4" font-size="4.6" font-weight="700" font-style="italic" text-anchor="middle" fill="#1a1a1a">STUAA</text>
<text x="475" y="787.8" font-size="2.3" fill="#666">斯图公司协同办公OA（董浩，制图公司）</text>
<text x="671" y="788" font-size="2.2" fill="#555">个人桌面</text><rect x="670.4" y="789.3" width="9.6" height=".5" fill="#2f7fe0"/><text x="684" y="788" font-size="2.2" fill="#777">协同区    标记工作  ▾</text><text x="724.5" y="788.2" font-size="2.6" fill="#666" text-anchor="end">⊞ ◔ ⚙</text>
<rect x="454" y="790.3" width="272.5" height="6.3" fill="#2a2d38"/><rect x="454" y="790.3" width="18" height="6.3" fill="#3e5aa0"/>
<circle cx="478" cy="793.5" r="1.7" fill="#fff"/><text x="478" y="794.4" font-size="2.4" font-weight="700" text-anchor="middle" fill="#2a2d38">?</text>
<text x="493.5" y="794.5" font-size="2.3" font-weight="700" fill="#f2f4f8" text-anchor="middle">协同工作</text>
<text x="507.25" y="794.5" font-size="2.3" font-weight="700" fill="#f2f4f8" text-anchor="middle">文档管理</text>
<text x="521.0" y="794.5" font-size="2.3" font-weight="700" fill="#f2f4f8" text-anchor="middle">绩效办公</text>
<text x="534.75" y="794.5" font-size="2.3" font-weight="700" fill="#f2f4f8" text-anchor="middle">会议管理</text>
<text x="548.5" y="794.5" font-size="2.3" font-weight="700" fill="#f2f4f8" text-anchor="middle">目标办公</text>
<text x="562.25" y="794.5" font-size="2.3" font-weight="700" fill="#f2f4f8" text-anchor="middle">文化建设</text>
<text x="576.0" y="794.5" font-size="2.3" font-weight="700" fill="#f2f4f8" text-anchor="middle">我的协同</text>
<text x="589.75" y="794.5" font-size="2.3" font-weight="700" fill="#f2f4f8" text-anchor="middle">知识工具</text>
<text x="603.5" y="794.5" font-size="2.3" font-weight="700" fill="#f2f4f8" text-anchor="middle">费控管理</text>
<text x="617.25" y="794.5" font-size="2.3" font-weight="700" fill="#f2f4f8" text-anchor="middle">人事管理</text>
<text x="724" y="794.5" font-size="2.2" fill="#aab" text-anchor="end">›</text>
<path d="M585 810q25-9 45-3t35-4t40 2l21 5v3h-141z" fill="#e8edf3" opacity=".8"/>
<circle cx="459.5" cy="803.2" r="3.3" fill="#30c3b0"/><circle cx="459.5" cy="803.2" r="1.3" fill="#fff" opacity=".9"/><text x="459.5" y="809.8" font-size="1.9" text-anchor="middle" fill="#555">新建事项</text>
<circle cx="469.47" cy="803.2" r="3.3" fill="#2a7de1"/><circle cx="469.47" cy="803.2" r="1.3" fill="#fff" opacity=".9"/><text x="469.47" y="809.8" font-size="1.9" text-anchor="middle" fill="#555">待办协同</text>
<circle cx="479.44" cy="803.2" r="3.3" fill="#4b45c6"/><circle cx="479.44" cy="803.2" r="1.3" fill="#fff" opacity=".9"/><text x="479.44" y="809.8" font-size="1.9" text-anchor="middle" fill="#555">已发协同</text>
<circle cx="489.41" cy="803.2" r="3.3" fill="#ec5353"/><circle cx="489.41" cy="803.2" r="1.3" fill="#fff" opacity=".9"/><text x="489.41" y="809.8" font-size="1.9" text-anchor="middle" fill="#555">建文档</text>
<circle cx="499.38" cy="803.2" r="3.3" fill="#2f95ee"/><circle cx="499.38" cy="803.2" r="1.3" fill="#fff" opacity=".9"/><text x="499.38" y="809.8" font-size="1.9" text-anchor="middle" fill="#555">我的日程</text>
<circle cx="509.35" cy="803.2" r="3.3" fill="#f5a623"/><circle cx="509.35" cy="803.2" r="1.3" fill="#fff" opacity=".9"/><text x="509.35" y="809.8" font-size="1.9" text-anchor="middle" fill="#555">我的模板</text>
<circle cx="519.32" cy="803.2" r="3.3" fill="#43c3b0"/><circle cx="519.32" cy="803.2" r="1.3" fill="#fff" opacity=".9"/><text x="519.32" y="809.8" font-size="1.9" text-anchor="middle" fill="#555">知识文档</text>
<rect x="454.2" y="812.3" width="116.5" height="57.4" rx=".8" fill="#ffffff"/><text x="456.8" y="817" font-size="2.3" fill="#2f7fe0">待办中心</text><text x="567" y="817" font-size="2.3" fill="#aaa" text-anchor="end">⌃</text>
<rect x="457" y="820.7" width="21.69999999999999" height="9.8" rx=".6" fill="#3a9fe0"/><text x="459" y="826.8" font-size="3" fill="#fff">33</text><text x="476.7" y="826.6" font-size="2" fill="#fff" text-anchor="end">全部待办</text>
<rect x="480.5" y="820.7" width="20.25" height="9.8" rx=".6" fill="#8c8be8"/><text x="482.5" y="826.8" font-size="3" fill="#fff">13</text><text x="498.75" y="826.6" font-size="2" fill="#fff" text-anchor="end">待审协同</text>
<rect x="502.5" y="820.7" width="21.0" height="9.8" rx=".6" fill="#3d7cf0"/><text x="504.5" y="826.8" font-size="3" fill="#fff">8</text><text x="521.5" y="826.6" font-size="2" fill="#fff" text-anchor="end">待开会议</text>
<rect x="525.25" y="820.7" width="19.950000000000045" height="9.8" rx=".6" fill="#f58b5c"/><text x="527.25" y="826.8" font-size="3" fill="#fff">2</text><text x="543.2" y="826.6" font-size="2" fill="#fff" text-anchor="end">待阅公文</text>
<rect x="547.3" y="820.7" width="21.700000000000045" height="9.8" rx=".6" fill="#3cb4f0"/><text x="549.3" y="826.8" font-size="3" fill="#fff">0</text><text x="567" y="826.6" font-size="2" fill="#fff" text-anchor="end">待处理事项</text>
<path d="M458.6 830.5l1 1.2l1-1.2z" fill="#3a9fe0"/>
<text x="567.6" y="836.0" font-size="1.8" fill="#777" text-anchor="middle">0</text>
<text x="567.6" y="840.2" font-size="1.8" fill="#777" text-anchor="middle">3</text>
<text x="567.6" y="844.4" font-size="1.8" fill="#777" text-anchor="middle">6</text>
<text x="567.6" y="848.6" font-size="1.8" fill="#777" text-anchor="middle">2</text>
<text x="567.6" y="852.8" font-size="1.8" fill="#777" text-anchor="middle">5</text>
<text x="567.6" y="857.0" font-size="1.8" fill="#777" text-anchor="middle">1</text>
<text x="567.6" y="861.2" font-size="1.8" fill="#777" text-anchor="middle">4</text>
<text x="567.6" y="865.4" font-size="1.8" fill="#777" text-anchor="middle">0</text>
<rect x="573.5" y="812.3" width="83.7" height="57.4" rx=".8" fill="#ffffff"/><text x="576" y="817" font-size="2.3" fill="#2f7fe0">我的日程</text><line x1="576" y1="818.3" x2="585" y2="818.3" stroke="#2f7fe0" stroke-width=".4"/><circle cx="653.4" cy="816.2" r="1.2" fill="none" stroke="#9ec5f5" stroke-width=".35"/>
<text x="576.4" y="827.4" font-size="6.8" fill="#8d97a5" font-weight="300">08</text><text x="652" y="824.5" font-size="1.9" fill="#666" text-anchor="end">‹ 2020年9月 ›</text>
<text x="581.5" y="830.3" font-size="1.9" text-anchor="middle" fill="#aaa">日</text>
<text x="581.5" y="835.7" font-size="2.1" text-anchor="middle" fill="#555">6</text>
<text x="592.7" y="830.3" font-size="1.9" text-anchor="middle" fill="#aaa">一</text>
<text x="592.7" y="835.7" font-size="2.1" text-anchor="middle" fill="#555">7</text>
<text x="603.9" y="830.3" font-size="1.9" text-anchor="middle" fill="#aaa">二</text>
<circle cx="604.0" cy="834.9" r="2.2" fill="#2f7fe0"/><text x="604.0" y="835.7" font-size="2.1" text-anchor="middle" fill="#fff">8</text>
<text x="615.1" y="830.3" font-size="1.9" text-anchor="middle" fill="#aaa">三</text>
<text x="615.1" y="835.7" font-size="2.1" text-anchor="middle" fill="#555">9</text>
<text x="626.3" y="830.3" font-size="1.9" text-anchor="middle" fill="#aaa">四</text>
<text x="626.3" y="835.7" font-size="2.1" text-anchor="middle" fill="#555">10</text>
<text x="637.5" y="830.3" font-size="1.9" text-anchor="middle" fill="#aaa">五</text>
<text x="637.5" y="835.7" font-size="2.1" text-anchor="middle" fill="#555">11</text>
<text x="648.7" y="830.3" font-size="1.9" text-anchor="middle" fill="#aaa">六</text>
<text x="648.7" y="835.7" font-size="2.1" text-anchor="middle" fill="#555">12</text>
<text x="615" y="840.3" font-size="1.6" fill="#9ab" text-anchor="middle">⌄</text>
<rect x="576" y="842.6" width="10.6" height="3.2" rx="1.6" fill="#2f7fe0"/><text x="581.3" y="845" font-size="1.8" fill="#fff" text-anchor="middle">我的日程</text><rect x="588.4" y="842.6" width="20" height="3.2" rx="1.6" fill="#fff" stroke="#7db0f0" stroke-width=".35"/><text x="598.4" y="845" font-size="1.8" fill="#2f7fe0" text-anchor="middle">我安排的他人日程</text>
<rect x="659.3" y="812.3" width="64.4" height="57.4" rx=".8" fill="#ffffff"/><text x="661.8" y="817" font-size="2.3" fill="#2f7fe0">我的关注</text><line x1="661.8" y1="818.3" x2="671" y2="818.3" stroke="#2f7fe0" stroke-width=".4"/><circle cx="720" cy="816.2" r="1.2" fill="none" stroke="#9ec5f5" stroke-width=".35"/>
<rect x="661.8" y="820.8" width="12" height="3.2" rx="1.6" fill="#2f7fe0"/><text x="667.8" y="823.2" font-size="1.8" fill="#fff" text-anchor="middle">全部关注</text>
<rect x="675.6" y="820.8" width="12" height="3.2" rx="1.6" fill="#fff" stroke="#7db0f0" stroke-width=".35"/><text x="681.6" y="823.2" font-size="1.8" fill="#2f7fe0" text-anchor="middle">协同关注</text>
<rect x="689.4" y="820.8" width="14" height="3.2" rx="1.6" fill="#fff" stroke="#7db0f0" stroke-width=".35"/><text x="696.4" y="823.2" font-size="1.8" fill="#2f7fe0" text-anchor="middle">文档知识关注</text><text x="705" y="823.2" font-size="1.8" fill="#777">▾</text>
<text x="663.5" y="828.4" font-size="1.9" fill="#555">协同</text><text x="663.5" y="830.8" font-size="1.6" fill="#999">09-01</text><text x="720.8" y="829.4" font-size="1.8" fill="#777" text-anchor="end">▪</text>
<text x="663.5" y="836.6999999999999" font-size="1.9" fill="#555">协同</text><text x="663.5" y="839.0999999999999" font-size="1.6" fill="#999">09-02</text><text x="720.8" y="837.6999999999999" font-size="1.8" fill="#777" text-anchor="end">▪</text>
<text x="663.5" y="845.0" font-size="1.9" fill="#555">协同</text><text x="663.5" y="847.4" font-size="1.6" fill="#999">09-03</text><text x="720.8" y="846.0" font-size="1.8" fill="#777" text-anchor="end">›</text>
<text x="663.5" y="853.3" font-size="1.9" fill="#555">协同</text><text x="663.5" y="855.6999999999999" font-size="1.6" fill="#999">09-04</text><text x="720.8" y="854.3" font-size="1.8" fill="#777" text-anchor="end">›</text>
<text x="663.5" y="861.6" font-size="1.9" fill="#555">协同</text><text x="663.5" y="864.0" font-size="1.6" fill="#999">09-05</text><text x="720.8" y="862.6" font-size="1.8" fill="#777" text-anchor="end">›</text>
<text x="663.5" y="869.9" font-size="1.9" fill="#555">协同</text><text x="663.5" y="872.3" font-size="1.6" fill="#999">09-06</text><text x="720.8" y="870.9" font-size="1.8" fill="#777" text-anchor="end">›</text>
</svg>
<svg class="abs" style="left:454px;top:878.8px" width="272.5" height="86.4" viewBox="454 878.8 272.5 86.4" font-family="Liberation Sans, Noto Sans CJK SC, sans-serif">
<rect x="454" y="878.8" width="272.5" height="86.4" fill="#ffffff"/>
<rect x="454" y="878.8" width="272.5" height="3.8" fill="#8e9093"/><text x="455" y="881.9" font-size="3" font-weight="700" fill="#f4f4f4">MYCRM</text>
<text x="725.5" y="881.7" font-size="1.9" fill="#f4f4f4" text-anchor="end">2020年9月8日 星期二  ▣ 桌面  ▣ 个人设置  ▣ 企业通讯录  ▣ 在线用户  ▣ 系统消息  </text><rect x="694.5" y="879.6" width="14.5" height="2.4" fill="#fff"/><rect x="714" y="879.7" width="9" height="2.2" fill="#8e9093"/><text x="718.5" y="881.6" font-size="1.8" fill="#fff" text-anchor="middle">退出系统</text>
<rect x="454" y="882.6" width="272.5" height="6.9" fill="#3d7ed2"/>
<text x="455.2" y="887" font-size="2" fill="#fff">桌面</text>
<text x="462.9" y="887" font-size="2" fill="#fff">客户</text>
<text x="470.59999999999997" y="887" font-size="2" fill="#fff">联系人</text>
<text x="480.34999999999997" y="887" font-size="2" fill="#fff">市场管理</text>
<text x="492.15" y="887" font-size="2" fill="#fff">销售机会</text>
<text x="503.95" y="887" font-size="2" fill="#fff">合同</text>
<text x="511.65" y="887" font-size="2" fill="#fff">订单管理</text>
<text x="523.4499999999999" y="887" font-size="2" fill="#fff">发货管理</text>
<text x="535.2499999999999" y="887" font-size="2" fill="#fff">应收款</text>
<text x="544.9999999999999" y="887" font-size="2" fill="#fff">服务支持</text>
<text x="556.7999999999998" y="887" font-size="2" fill="#fff">库存管理</text>
<text x="568.5999999999998" y="887" font-size="2" fill="#fff">采购管理</text>
<text x="580.3999999999997" y="887" font-size="2" fill="#fff">应付款</text>
<text x="590.1499999999997" y="887" font-size="2" fill="#fff">费用管理</text>
<text x="601.9499999999997" y="887" font-size="2" fill="#fff">报表分析</text>
<text x="613.7499999999997" y="887" font-size="2" fill="#fff">系统设置</text>
<rect x="454" y="889.5" width="32.8" height="75.7" fill="#fbfcfe"/><line x1="486.8" y1="889.5" x2="486.8" y2="965.2" stroke="#d5e0ee" stroke-width=".4"/>
<rect x="454.6" y="890.6" width="31.6" height="4" fill="#dbe9f8"/><text x="456" y="893.6" font-size="2" font-weight="700" fill="#335">桌面导航</text><rect x="483" y="891.6" width="2" height="2" fill="#3d7ed2"/>
<text x="458" y="898.8" font-size="1.9" fill="#2a55a8">桌面 — 我的桌面</text><text x="458" y="902.2" font-size="1.9" fill="#2a55a8">桌面 — 常用功能</text>
<rect x="454.6" y="904" width="31.6" height="4" fill="#dbe9f8"/><text x="456" y="907" font-size="2" font-weight="700" fill="#335">最近浏览</text><rect x="483" y="905" width="2" height="2" fill="#3d7ed2"/>
<text x="458" y="911.6" font-size="1.9" fill="#2a55a8">客户 — 202009000</text>
<text x="458" y="914.15" font-size="1.9" fill="#2a55a8">客户 — 202009071</text>
<text x="458" y="916.7" font-size="1.9" fill="#2a55a8">客户 — 202009052</text>
<text x="458" y="919.25" font-size="1.9" fill="#2a55a8">客户 — 202009033</text>
<text x="458" y="921.8000000000001" font-size="1.9" fill="#2a55a8">客户 — 202009014</text>
<text x="458" y="924.35" font-size="1.9" fill="#2a55a8">客户 — 202009085</text>
<text x="458" y="926.9" font-size="1.9" fill="#2a55a8">客户 — 202009066</text>
<text x="458" y="929.45" font-size="1.9" fill="#2a55a8">客户 — 202009047</text>
<text x="458" y="932.0" font-size="1.9" fill="#2a55a8">客户 — 202009028</text>
<text x="458" y="934.5500000000001" font-size="1.9" fill="#2a55a8">客户 — 202009009</text>
<text x="458" y="937.1" font-size="1.9" fill="#2a55a8">客户 — 202009070</text>
<rect x="454.6" y="936.2" width="31.6" height="4.8" fill="#3d7ed2"/><text x="470" y="939.6" font-size="2" fill="#fff" text-anchor="middle">九月 2020    今 ◂ ▸</text>
<text x="458.0" y="944.6" font-size="1.8" text-anchor="middle" fill="#555">日</text>
<text x="462.4" y="944.6" font-size="1.8" text-anchor="middle" fill="#555">一</text>
<text x="466.8" y="944.6" font-size="1.8" text-anchor="middle" fill="#555">二</text>
<text x="471.2" y="944.6" font-size="1.8" text-anchor="middle" fill="#555">三</text>
<text x="475.6" y="944.6" font-size="1.8" text-anchor="middle" fill="#555">四</text>
<text x="480.0" y="944.6" font-size="1.8" text-anchor="middle" fill="#555">五</text>
<text x="484.4" y="944.6" font-size="1.8" text-anchor="middle" fill="#555">六</text>
<text x="458.0" y="948.6" font-size="1.9" text-anchor="middle" fill="#333">30</text>
<text x="462.4" y="948.6" font-size="1.9" text-anchor="middle" fill="#333">31</text>
<text x="466.8" y="948.6" font-size="1.9" text-anchor="middle" fill="#333">1</text>
<text x="471.2" y="948.6" font-size="1.9" text-anchor="middle" fill="#333">2</text>
<text x="475.6" y="948.6" font-size="1.9" text-anchor="middle" fill="#333">3</text>
<text x="480.0" y="948.6" font-size="1.9" text-anchor="middle" fill="#333">4</text>
<text x="484.4" y="948.6" font-size="1.9" text-anchor="middle" fill="#333">5</text>
<text x="458.0" y="952.15" font-size="1.9" text-anchor="middle" fill="#333">6</text>
<text x="462.4" y="952.15" font-size="1.9" text-anchor="middle" fill="#333">7</text>
<rect x="465.1" y="949.85" width="3.4" height="3" fill="#fff" stroke="#333" stroke-width=".4"/>
<text x="466.8" y="952.15" font-size="1.9" text-anchor="middle" fill="#333">8</text>
<text x="471.2" y="952.15" font-size="1.9" text-anchor="middle" fill="#333">9</text>
<text x="475.6" y="952.15" font-size="1.9" text-anchor="middle" fill="#333">10</text>
<text x="480.0" y="952.15" font-size="1.9" text-anchor="middle" fill="#333">11</text>
<text x="484.4" y="952.15" font-size="1.9" text-anchor="middle" fill="#333">12</text>
<text x="458.0" y="955.7" font-size="1.9" text-anchor="middle" fill="#333">13</text>
<text x="462.4" y="955.7" font-size="1.9" text-anchor="middle" fill="#333">14</text>
<text x="466.8" y="955.7" font-size="1.9" text-anchor="middle" fill="#333">15</text>
<text x="471.2" y="955.7" font-size="1.9" text-anchor="middle" fill="#333">16</text>
<text x="475.6" y="955.7" font-size="1.9" text-anchor="middle" fill="#333">17</text>
<text x="480.0" y="955.7" font-size="1.9" text-anchor="middle" fill="#333">18</text>
<text x="484.4" y="955.7" font-size="1.9" text-anchor="middle" fill="#333">19</text>
<text x="458.0" y="959.25" font-size="1.9" text-anchor="middle" fill="#333">20</text>
<text x="462.4" y="959.25" font-size="1.9" text-anchor="middle" fill="#333">21</text>
<text x="466.8" y="959.25" font-size="1.9" text-anchor="middle" fill="#333">22</text>
<text x="471.2" y="959.25" font-size="1.9" text-anchor="middle" fill="#333">23</text>
<text x="475.6" y="959.25" font-size="1.9" text-anchor="middle" fill="#333">24</text>
<text x="480.0" y="959.25" font-size="1.9" text-anchor="middle" fill="#333">25</text>
<text x="484.4" y="959.25" font-size="1.9" text-anchor="middle" fill="#333">26</text>
<text x="458.0" y="962.8000000000001" font-size="1.9" text-anchor="middle" fill="#333">27</text>
<text x="462.4" y="962.8000000000001" font-size="1.9" text-anchor="middle" fill="#333">28</text>
<text x="466.8" y="962.8000000000001" font-size="1.9" text-anchor="middle" fill="#333">29</text>
<text x="471.2" y="962.8000000000001" font-size="1.9" text-anchor="middle" fill="#333">30</text>
<text x="475.6" y="962.8000000000001" font-size="1.9" text-anchor="middle" fill="#333">1</text>
<text x="480.0" y="962.8000000000001" font-size="1.9" text-anchor="middle" fill="#333">2</text>
<text x="484.4" y="962.8000000000001" font-size="1.9" text-anchor="middle" fill="#333">3</text>
<text x="458.0" y="966.35" font-size="1.9" text-anchor="middle" fill="#333">4</text>
<text x="462.4" y="966.35" font-size="1.9" text-anchor="middle" fill="#333">5</text>
<text x="466.8" y="966.35" font-size="1.9" text-anchor="middle" fill="#333">6</text>
<text x="471.2" y="966.35" font-size="1.9" text-anchor="middle" fill="#333">7</text>
<text x="475.6" y="966.35" font-size="1.9" text-anchor="middle" fill="#333">8</text>
<text x="480.0" y="966.35" font-size="1.9" text-anchor="middle" fill="#333">9</text>
<text x="484.4" y="966.35" font-size="1.9" text-anchor="middle" fill="#333">10</text>
<rect x="489.2" y="891.2" width="20.3" height="4.4" fill="#3d7ed2"/><text x="491" y="894.4" font-size="2" fill="#fff">★ 桌面 — 桌面</text>
<rect x="490" y="897.2" width="2.4" height="2.4" fill="#5a8ad8"/><text x="493.6" y="899.5" font-size="2" fill="#333">工作日程提醒</text>
<rect x="703.4" y="896.6" width="6.4" height="3.2" fill="#fff" stroke="#3d7ed2" stroke-width=".4"/><text x="706.6" y="899.1" font-size="1.7" fill="#3d7ed2" text-anchor="middle">今天</text><rect x="711" y="896.6" width="6" height="3.2" fill="#fff" stroke="#b5c6dc" stroke-width=".3"/><text x="714" y="899.1" font-size="1.7" fill="#666" text-anchor="middle">本周</text><rect x="718" y="896.6" width="5.4" height="3.2" fill="#fff" stroke="#b5c6dc" stroke-width=".3"/><text x="720.7" y="899.1" font-size="1.7" fill="#666" text-anchor="middle">本月</text><path d="M724.6 897.4l1.6.9l-1.6.9z" fill="#3d7ed2"/>
<rect x="488" y="927.3" width="238.5" height="4.4" fill="#e4ecf6"/><text x="490" y="930.6" font-size="2" fill="#333">✎ 待审批流程</text><path d="M724.6 928.5l1.6.9l-1.6.9z" fill="#3d7ed2"/>
<rect x="488" y="933.2" width="238.5" height="4" fill="#e9eff7"/><circle cx="490.8" cy="935.2" r="1" fill="#f0b020"/><text x="493" y="936.4" font-size="2" fill="#333">公告</text><text x="722" y="936.4" font-size="1.8" fill="#c07a10" text-anchor="end">▲ 更多</text><path d="M724.6 934.3l1.6.9l-1.6.9z" fill="#3d7ed2"/>
<rect x="488" y="937.6" width="238.5" height="3.6" fill="#f5f7fa"/>
<text x="490" y="940.2" font-size="1.7" fill="#777">公告类型</text><line x1="488.8" y1="937.6" x2="488.8" y2="941.2" stroke="#dde4ee" stroke-width=".25"/>
<text x="501" y="940.2" font-size="1.7" fill="#777">发布人</text><line x1="499.8" y1="937.6" x2="499.8" y2="941.2" stroke="#dde4ee" stroke-width=".25"/>
<text x="513.5" y="940.2" font-size="1.7" fill="#777">主题</text><line x1="512.3" y1="937.6" x2="512.3" y2="941.2" stroke="#dde4ee" stroke-width=".25"/>
<text x="553" y="940.2" font-size="1.7" fill="#777">内容</text><line x1="551.8" y1="937.6" x2="551.8" y2="941.2" stroke="#dde4ee" stroke-width=".25"/>
<text x="603" y="940.2" font-size="1.7" fill="#777">阅读状态</text><line x1="601.8" y1="937.6" x2="601.8" y2="941.2" stroke="#dde4ee" stroke-width=".25"/>
<text x="615" y="940.2" font-size="1.7" fill="#777">生效日期</text><line x1="613.8" y1="937.6" x2="613.8" y2="941.2" stroke="#dde4ee" stroke-width=".25"/>
<text x="629" y="940.2" font-size="1.7" fill="#777">发布人</text><line x1="627.8" y1="937.6" x2="627.8" y2="941.2" stroke="#dde4ee" stroke-width=".25"/>
<text x="640" y="940.2" font-size="1.7" fill="#777">已阅人</text><line x1="638.8" y1="937.6" x2="638.8" y2="941.2" stroke="#dde4ee" stroke-width=".25"/>
<text x="652" y="940.2" font-size="1.7" fill="#777">发布时间</text><line x1="650.8" y1="937.6" x2="650.8" y2="941.2" stroke="#dde4ee" stroke-width=".25"/>
<text x="490" y="944.4" font-size="1.8" fill="#2a3f8a" font-weight="700">通知公告</text>
<text x="501" y="944.4" font-size="1.8" fill="#2a3f8a" font-weight="700">北京</text>
<text x="513.5" y="944.4" font-size="1.8" fill="#2a3f8a" font-weight="700">第一公告</text>
<text x="553" y="944.4" font-size="1.8" fill="#2a3f8a" font-weight="700">第一公告</text>
<text x="603" y="944.4" font-size="1.8" fill="#2a3f8a" font-weight="700">是</text>
<text x="615" y="944.4" font-size="1.8" fill="#2a3f8a" font-weight="700">0</text>
<text x="652" y="944.4" font-size="1.8" fill="#2a3f8a" font-weight="700">2020-05-20 16:14</text>
<rect x="488" y="945.6" width="238.5" height="4.2" fill="#e9eff7"/><circle cx="490.8" cy="947.7" r="1" fill="#e0662a"/><text x="493" y="948.9" font-size="2" fill="#333">系统任务</text><text x="722" y="948.9" font-size="1.8" fill="#a04a20" text-anchor="end">▲更多</text><path d="M724.6 946.8l1.6.9l-1.6.9z" fill="#3d7ed2"/>
<rect x="488" y="950" width="110" height="8.4" fill="#f7f9fc"/><text x="513" y="953.8" font-size="2" font-weight="700" fill="#223">最近5天工作提醒服务概况</text>
<text x="490" y="957.4" font-size="1.7" fill="#777">序号</text>
<text x="501" y="957.4" font-size="1.7" fill="#777">事务类型</text>
<text x="513.5" y="957.4" font-size="1.7" fill="#777">提醒内容</text>
</svg>
<div class="lab" style="left:417.6px;top:577.40px">MES</div><div class="oline" style="top:589.70px"></div><div class="odot" style="top:588.60px"></div>
<div class="lab" style="left:418.6px;top:672.70px">PLM</div><div class="oline" style="top:684.80px"></div><div class="odot" style="top:683.70px"></div>
<div class="lab" style="left:420.2px;top:767.30px">ERP</div><div class="oline" style="top:779.80px"></div><div class="odot" style="top:778.70px"></div>
<div class="lab" style="left:419.4px;top:862.10px">OA</div><div class="oline" style="top:873.90px"></div><div class="odot" style="top:872.80px"></div>
<div class="lab" style="left:416.3px;top:952.50px">CRM</div><div class="oline" style="top:966.30px"></div><div class="odot" style="top:965.20px"></div>

<!-- dotted decoration -->
<svg class="abs" style="left:0;top:0;pointer-events:none" width="800" height="1000" viewBox="0 0 800 1000"><g fill="#000" fill-opacity=".1">
<circle cx="105.0" cy="10.0" r="6.05"/>
<circle cx="55.0" cy="60.0" r="6.05"/>
<circle cx="37.6" cy="77.5" r="6.05"/>
<circle cx="20.1" cy="95.0" r="6.05"/>
<circle cx="2.7" cy="112.5" r="6.05"/>
<circle cx="-14.7" cy="130.0" r="6.05"/>
<circle cx="370.0" cy="0.0" r="6.05"/>
<circle cx="352.0" cy="16.5" r="6.05"/>
<circle cx="301.0" cy="66.5" r="6.05"/>
<circle cx="283.6" cy="84.0" r="6.05"/>
<circle cx="266.1" cy="101.5" r="6.05"/>
<circle cx="248.7" cy="119.0" r="6.05"/>
<circle cx="231.3" cy="136.5" r="6.05"/>
<circle cx="181.0" cy="187.0" r="6.05"/>
<circle cx="163.6" cy="204.5" r="6.05"/>
<circle cx="146.1" cy="222.0" r="6.05"/>
<circle cx="128.7" cy="239.5" r="6.05"/>
<circle cx="111.3" cy="257.0" r="6.05"/>
<circle cx="60.5" cy="306.2" r="6.05"/>
<circle cx="43.1" cy="323.7" r="6.05"/>
<circle cx="25.6" cy="341.2" r="6.05"/>
<circle cx="8.2" cy="358.7" r="6.05"/>
<circle cx="-9.2" cy="376.2" r="6.05"/>
<circle cx="613.0" cy="4.5" r="6.05"/>
<circle cx="597.0" cy="22.0" r="6.05"/>
<circle cx="547.0" cy="72.0" r="6.05"/>
<circle cx="529.6" cy="89.5" r="6.05"/>
<circle cx="512.1" cy="107.0" r="6.05"/>
<circle cx="494.7" cy="124.5" r="6.05"/>
<circle cx="477.3" cy="142.0" r="6.05"/>
<circle cx="426.5" cy="192.5" r="6.05"/>
<circle cx="409.1" cy="210.0" r="6.05"/>
<circle cx="391.6" cy="227.5" r="6.05"/>
<circle cx="374.2" cy="245.0" r="6.05"/>
<circle cx="356.8" cy="262.5" r="6.05"/>
<circle cx="306.8" cy="312.5" r="6.05"/>
<circle cx="186.0" cy="434.5" r="6.05"/>
<circle cx="168.6" cy="452.0" r="6.05"/>
<circle cx="151.1" cy="469.5" r="6.05"/>
<circle cx="133.7" cy="487.0" r="6.05"/>
<circle cx="116.3" cy="504.5" r="6.05"/>
<circle cx="66.5" cy="552.5" r="6.05"/>
<circle cx="49.1" cy="570.0" r="6.05"/>
<circle cx="31.6" cy="587.5" r="6.05"/>
<circle cx="14.2" cy="605.0" r="6.05"/>
<circle cx="-3.2" cy="622.5" r="6.05"/>
<circle cx="740.0" cy="131.0" r="6.05"/>
<circle cx="723.0" cy="148.0" r="6.05"/>
<circle cx="672.5" cy="197.5" r="6.05"/>
<circle cx="655.1" cy="215.0" r="6.05"/>
<circle cx="637.6" cy="232.5" r="6.05"/>
<circle cx="620.2" cy="250.0" r="6.05"/>
<circle cx="602.8" cy="267.5" r="6.05"/>
<circle cx="552.5" cy="318.5" r="6.05"/>
<circle cx="535.1" cy="336.0" r="6.05"/>
<circle cx="517.6" cy="353.5" r="6.05"/>
<circle cx="500.2" cy="371.0" r="6.05"/>
<circle cx="482.8" cy="388.5" r="6.05"/>
<circle cx="432.8" cy="438.5" r="6.05"/>
<circle cx="415.4" cy="456.0" r="6.05"/>
<circle cx="397.9" cy="473.5" r="6.05"/>
<circle cx="380.5" cy="491.0" r="6.05"/>
<circle cx="363.1" cy="508.5" r="6.05"/>
<circle cx="312.0" cy="559.0" r="6.05"/>
<circle cx="294.6" cy="576.5" r="6.05"/>
<circle cx="277.1" cy="594.0" r="6.05"/>
<circle cx="259.7" cy="611.5" r="6.05"/>
<circle cx="242.3" cy="629.0" r="6.05"/>
<circle cx="190.8" cy="681.0" r="6.05"/>
<circle cx="173.4" cy="698.5" r="6.05"/>
<circle cx="155.9" cy="716.0" r="6.05"/>
<circle cx="138.5" cy="733.5" r="6.05"/>
<circle cx="121.1" cy="751.0" r="6.05"/>
<circle cx="71.5" cy="799.0" r="6.05"/>
<circle cx="54.1" cy="816.5" r="6.05"/>
<circle cx="36.6" cy="834.0" r="6.05"/>
<circle cx="19.2" cy="851.5" r="6.05"/>
<circle cx="1.8" cy="869.0" r="6.05"/>
<circle cx="796.5" cy="325.0" r="6.05"/>
<circle cx="779.1" cy="342.5" r="6.05"/>
<circle cx="761.6" cy="360.0" r="6.05"/>
<circle cx="744.2" cy="377.5" r="6.05"/>
<circle cx="726.8" cy="395.0" r="6.05"/>
<circle cx="677.5" cy="445.0" r="6.05"/>
<circle cx="660.1" cy="462.5" r="6.05"/>
<circle cx="642.6" cy="480.0" r="6.05"/>
<circle cx="625.2" cy="497.5" r="6.05"/>
<circle cx="607.8" cy="515.0" r="6.05"/>
<circle cx="557.5" cy="565.5" r="6.05"/>
<circle cx="540.1" cy="583.0" r="6.05"/>
<circle cx="522.6" cy="600.5" r="6.05"/>
<circle cx="505.2" cy="618.0" r="6.05"/>
<circle cx="487.8" cy="635.5" r="6.05"/>
<circle cx="438.5" cy="685.5" r="6.05"/>
<circle cx="421.1" cy="703.0" r="6.05"/>
<circle cx="403.6" cy="720.5" r="6.05"/>
<circle cx="386.2" cy="738.0" r="6.05"/>
<circle cx="368.8" cy="755.5" r="6.05"/>
<circle cx="317.3" cy="804.5" r="6.05"/>
<circle cx="299.9" cy="822.0" r="6.05"/>
<circle cx="282.4" cy="839.5" r="6.05"/>
<circle cx="265.0" cy="857.0" r="6.05"/>
<circle cx="247.6" cy="874.5" r="6.05"/>
<circle cx="197.5" cy="925.5" r="6.05"/>
<circle cx="180.1" cy="943.0" r="6.05"/>
<circle cx="162.6" cy="960.5" r="6.05"/>
<circle cx="145.2" cy="978.0" r="6.05"/>
<circle cx="127.8" cy="995.5" r="6.05"/>
<circle cx="804.2" cy="570.3" r="6.05"/>
<circle cx="786.8" cy="587.8" r="6.05"/>
<circle cx="769.3" cy="605.3" r="6.05"/>
<circle cx="751.9" cy="622.8" r="6.05"/>
<circle cx="734.5" cy="640.3" r="6.05"/>
<circle cx="683.8" cy="690.5" r="6.05"/>
<circle cx="666.4" cy="708.0" r="6.05"/>
<circle cx="648.9" cy="725.5" r="6.05"/>
<circle cx="631.5" cy="743.0" r="6.05"/>
<circle cx="614.1" cy="760.5" r="6.05"/>
<circle cx="563.8" cy="810.5" r="6.05"/>
<circle cx="546.3" cy="828.0" r="6.05"/>
<circle cx="528.9" cy="845.5" r="6.05"/>
<circle cx="511.5" cy="863.0" r="6.05"/>
<circle cx="494.0" cy="880.5" r="6.05"/>
<circle cx="443.8" cy="930.8" r="6.05"/>
<circle cx="426.3" cy="948.2" r="6.05"/>
<circle cx="408.9" cy="965.8" r="6.05"/>
<circle cx="391.5" cy="983.2" r="6.05"/>
<circle cx="374.0" cy="1000.8" r="6.05"/>
</g></svg>

<!-- title -->
<svg class="abs" style="left:55px;top:28px" width="244" height="136" viewBox="55 28 244 136"><g fill="#0b5ea6"><rect x="59.2" y="31.7" width="6.6" height="128"/><rect x="59.2" y="31.7" width="234.5" height="5.5"/><rect x="59.2" y="154.2" width="234.5" height="5.5"/><rect x="287.2" y="31.7" width="6.5" height="17.6"/><rect x="287.2" y="142.6" width="6.5" height="17.1"/></g></svg>
<div class="t-cn" style="left:81px;top:62px;letter-spacing:.15px;">项目管控能力</div>
<div class="t-cn" style="left:275.3px;top:64.6px;letter-spacing:3.6px;font-size:30.5px;transform:scaleY(.86);font-family:'Liberation Sans',sans-serif;font-weight:400;-webkit-text-stroke:.55px #3e3a39;">&gt;&gt;</div>
<div class="t-cn" style="left:326.2px;top:62px;letter-spacing:.5px;">精益生产</div>
<div class="t-en">PROJECT CONTROL</div>

<!-- headings -->
<div class="hd" style="left:457.5px;top:185.60px">MES</div><svg class="tri" style="left:502px;top:189.2px" viewBox="0 0 20 11.5"><polygon points="0,0 8.7,5.65 0,11.3" fill="#f9b916"/><polygon points="10.5,0 19.2,5.65 10.5,11.3" fill="#f9b916"/></svg>
<div class="hd" style="left:457.5px;top:345.40px">PLM</div><svg class="tri" style="left:501.2px;top:349.2px" viewBox="0 0 20 11.5"><polygon points="0,0 8.7,5.65 0,11.3" fill="#f9b916"/><polygon points="10.5,0 19.2,5.65 10.5,11.3" fill="#f9b916"/></svg>
<div class="hd" style="left:68px;top:588.50px">ERP</div><svg class="tri" style="left:102.5px;top:592.2px" viewBox="0 0 20 11.5"><polygon points="0,0 8.7,5.65 0,11.3" fill="#f9b916"/><polygon points="10.5,0 19.2,5.65 10.5,11.3" fill="#f9b916"/></svg>
<div class="hd" style="left:68px;top:701.50px">OA</div><svg class="tri" style="left:100px;top:705.4px" viewBox="0 0 20 11.5"><polygon points="0,0 8.7,5.65 0,11.3" fill="#f9b916"/><polygon points="10.5,0 19.2,5.65 10.5,11.3" fill="#f9b916"/></svg>
<div class="hd" style="left:68px;top:814.70px">CRM</div><svg class="tri" style="left:110.5px;top:818.5px" viewBox="0 0 20 11.5"><polygon points="0,0 8.7,5.65 0,11.3" fill="#f9b916"/><polygon points="10.5,0 19.2,5.65 10.5,11.3" fill="#f9b916"/></svg>

<!-- body text -->
<div class="ln" id="ln0" style="left:457.50px;top:207.05px;height:16px;line-height:16px;font-size:11.05px;letter-spacing:0.046px;"><span style="font-size:0.96em;letter-spacing:-0.4px">MES</span>具有包括计划排程管理、生产调度管理、质量管理、</div>
<div class="ln" id="ln1" style="left:457.50px;top:223.05px;height:16px;line-height:16px;font-size:11.05px;letter-spacing:0.353px;">工作中心<span class="m">/</span>设备管理、工具工装管理、采购管理、成本管</div>
<div class="ln" id="ln2" style="left:457.50px;top:239.05px;height:16px;line-height:16px;font-size:11.05px;letter-spacing:0.034px;">理、项目看板管理、生产过程控制、底层数据集成分析、</div>
<div class="ln" id="ln3" style="left:457.50px;top:255.05px;height:16px;line-height:16px;font-size:11.05px;letter-spacing:0.034px;">上层数据集成分解等管理模块，为企业打造一个扎实、可</div>
<div class="ln" id="ln4" style="left:457.50px;top:271.05px;height:16px;line-height:16px;font-size:11.05px;">靠、全面、可行的制造协同管理平台。</div>
<div class="ln" id="ln5" style="left:457.50px;top:287.05px;height:16px;line-height:16px;font-size:11.05px;letter-spacing:0.045px;">斯图通过<span style="font-size:0.96em;letter-spacing:-0.4px">MES</span>系统，科学合理的把控生产订单，管理生产</div>
<div class="ln" id="ln6" style="left:457.50px;top:303.05px;height:16px;line-height:16px;font-size:11.05px;">质量，在保质保量的同时，最大限度的缩短生产周期。</div>
<div class="ln" id="ln7" style="left:457.50px;top:366.80px;height:16px;line-height:16px;font-size:11.05px;letter-spacing:0.066px;"><span style="font-size:0.97em;letter-spacing:-0.25px">PLM</span>系统支持产品全生命周期的信息的创建、管理、分发</div>
<div class="ln" id="ln8" style="left:457.50px;top:382.80px;height:16px;line-height:16px;font-size:11.05px;letter-spacing:0.034px;">和应用的一系列应用解决方案，它能够集成与产品相关的</div>
<div class="ln" id="ln9" style="left:457.50px;top:398.80px;height:16px;line-height:16px;font-size:11.05px;">人力资源、流程、应用系统和信息。</div>
<div class="ln" id="ln10" style="left:457.50px;top:414.80px;height:16px;line-height:16px;font-size:11.05px;letter-spacing:0.065px;">斯图通过<span style="font-size:0.97em;letter-spacing:-0.25px">PLM</span>系统，激发了设计部门能的研发潜力，更新</div>
<div class="ln" id="ln11" style="left:457.50px;top:430.80px;height:16px;line-height:16px;font-size:11.05px;letter-spacing:0.065px;">了产品的设计理念，推动了标准产品的进度。通过<span style="font-size:0.97em;letter-spacing:-0.25px">PLM</span>系</div>
<div class="ln" id="ln12" style="left:457.50px;top:446.80px;height:16px;line-height:16px;font-size:11.05px;">统进行设计图纸的流转，实现了客户信息的绝对保密。</div>
<div class="ln" id="ln13" style="left:68.50px;top:611.20px;height:17.5px;line-height:17.5px;font-size:10.85px;letter-spacing:0.089px;"><span style="font-size:0.95em;letter-spacing:-0.55px">ERP</span> 是一种主要面向制造行业进行物质资源、资金资源和信息资源</div>
<div class="ln" id="ln14" style="left:68.50px;top:628.70px;height:17.5px;line-height:17.5px;font-size:10.85px;">集成一体化管理的企业信息管理系统。</div>
<div class="ln" id="ln15" style="left:68.50px;top:646.20px;height:17.5px;line-height:17.5px;font-size:10.85px;letter-spacing:0.248px;">斯图通过<span style="font-size:0.95em;letter-spacing:-0.55px">ERP</span>系统，进行合理的成本把控，订单分析，为公司的订</div>
<div class="ln" id="ln16" style="left:68.50px;top:663.95px;height:17.5px;line-height:17.5px;font-size:10.85px;">单，以及资金管理提供真实有效的数据基础。</div>
<div class="ln" id="ln17" style="left:68.50px;top:724.45px;height:17.5px;line-height:17.5px;font-size:10.85px;letter-spacing:0.252px;"><span style="font-size:0.98em;letter-spacing:0px">OA</span>办公系统就是采用<span class="m">Internet/Intranet</span>技术，基于工作流概念，使</div>
<div class="ln" id="ln18" style="left:68.50px;top:741.95px;height:17.5px;line-height:17.5px;font-size:10.85px;">企业内部人员方便快捷地共享信息，高效协同工作。</div>
<div class="ln" id="ln19" style="left:68.50px;top:759.45px;height:17.5px;line-height:17.5px;font-size:10.85px;letter-spacing:0.138px;">斯图通过<span style="font-size:0.98em;letter-spacing:0px">OA</span>系统，高效便捷处理工作流程，提高了同事之间的协作</div>
<div class="ln" id="ln20" style="left:68.50px;top:776.95px;height:17.5px;line-height:17.5px;font-size:10.85px;">工作，符合斯图人高效的工作作风。</div>
<div class="ln" id="ln21" style="left:68.50px;top:837.70px;height:17.5px;line-height:17.5px;font-size:10.85px;letter-spacing:0.138px;"><span style="font-size:1em;letter-spacing:0px">CRM</span>客户管理系统基于网络、通讯、计算机等信息技术，能实现不</div>
<div class="ln" id="ln22" style="left:68.50px;top:855.20px;height:17.5px;line-height:17.5px;font-size:10.85px;letter-spacing:0.090px;">同职能部门的无缝连接，能够协助管理者更好地完成客户关系管理</div>
<div class="ln" id="ln23" style="left:68.50px;top:872.85px;height:17.5px;line-height:17.5px;font-size:10.85px;">的两项基本任务：识别和保持有价值客户。</div>
<div class="ln" id="ln24" style="left:68.50px;top:890.25px;height:17.5px;line-height:17.5px;font-size:10.85px;letter-spacing:0.087px;">斯图通过<span style="font-size:1em;letter-spacing:0px">CRM</span>客户管理系统，最大限度的发掘潜在客户，通过对资</div>
<div class="ln" id="ln25" style="left:68.50px;top:907.75px;height:17.5px;line-height:17.5px;font-size:10.85px;letter-spacing:0.111px;">源池的合理规划实现订单的高转化工作。<span style="font-size:1em;letter-spacing:0px">CRM</span>系统也为增加客户粘</div>
<div class="ln" id="ln26" style="left:68.50px;top:925.25px;height:17.5px;line-height:17.5px;font-size:10.85px;">度提供便捷的数据支持，提高回购率。</div>
</div>
</body>
</html>
